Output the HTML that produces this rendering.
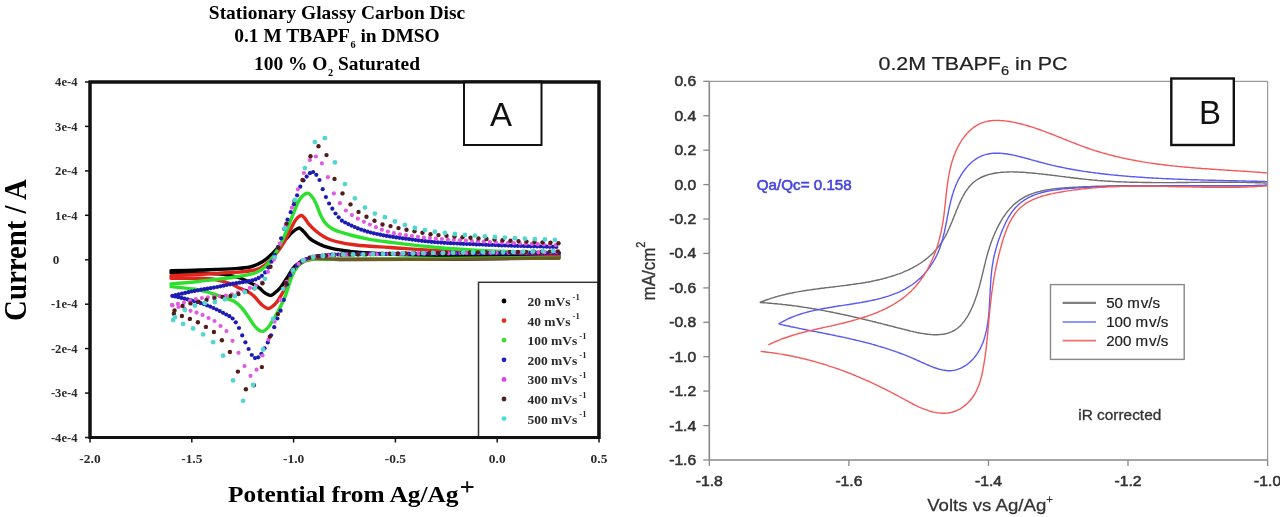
<!DOCTYPE html>
<html><head><meta charset="utf-8"><style>
html,body{margin:0;padding:0;background:#fff;}
body{width:1280px;height:517px;overflow:hidden;}
svg{display:block;filter:blur(0.6px);}
</style></head><body>
<svg width="1280" height="517" viewBox="0 0 1280 517">
<rect width="1280" height="517" fill="#fff"/>
<path d="M171.0,270.8 C175.8,270.7 189.3,270.4 200.0,270.0 C210.7,269.6 226.7,269.1 235.0,268.6 C243.3,268.1 245.5,268.1 250.0,267.0 C254.5,265.9 258.2,264.3 262.0,262.0 C265.8,259.7 269.2,256.7 273.0,253.0 C276.8,249.3 281.8,243.4 285.0,240.0 C288.2,236.6 289.8,234.5 292.0,232.5 C294.2,230.5 296.9,228.6 298.5,228.1 C300.1,227.6 300.5,228.8 301.5,229.5 C302.5,230.2 302.9,230.7 304.3,232.2 C305.7,233.7 307.9,236.8 310.0,238.6 C312.1,240.4 314.3,241.6 317.0,243.0 C319.7,244.4 323.0,245.8 326.0,246.8 C329.0,247.8 330.7,248.4 335.0,249.2 C339.3,250.0 346.2,251.0 352.0,251.6 C357.8,252.2 362.0,252.5 370.0,253.0 C378.0,253.5 386.7,254.1 400.0,254.5 C413.3,254.9 423.5,255.2 450.0,255.5 C476.5,255.8 540.8,255.9 559.0,256.0" fill="none" stroke="#000000" stroke-width="3.4" stroke-linejoin="round" stroke-linecap="round"/>
<path d="M559.0,258.0 C540.8,258.2 486.5,258.9 450.0,259.2 C413.5,259.4 361.7,259.7 340.0,259.5 C318.3,259.3 325.8,258.1 320.0,258.2 C314.2,258.3 309.2,258.7 305.0,260.0 C300.8,261.3 298.0,263.0 295.0,266.0 C292.0,269.0 289.3,274.5 287.0,278.0 C284.7,281.5 282.7,284.8 281.0,287.0 C279.3,289.2 278.6,289.6 277.0,291.0 C275.4,292.4 273.1,295.0 271.2,295.4 C269.3,295.8 267.3,294.5 265.4,293.3 C263.5,292.1 261.3,289.5 259.6,288.2 C257.9,286.9 257.0,286.2 255.3,285.3 C253.6,284.4 252.1,283.7 249.5,282.5 C246.9,281.3 244.1,279.3 240.0,278.0 C235.9,276.7 231.7,275.4 225.0,274.6 C218.3,273.8 209.0,273.4 200.0,273.1 C191.0,272.8 175.8,272.9 171.0,272.8" fill="none" stroke="#000000" stroke-width="3.4" stroke-linejoin="round" stroke-linecap="round"/>
<path d="M171.0,275.8 C175.8,275.6 189.3,274.9 200.0,274.3 C210.7,273.7 225.8,273.0 235.0,272.3 C244.2,271.6 250.0,271.2 255.0,270.0 C260.0,268.8 261.7,267.5 265.0,265.0 C268.3,262.5 272.0,258.5 275.0,255.0 C278.0,251.5 280.2,248.7 283.0,244.0 C285.8,239.3 289.6,231.1 291.8,227.0 C294.0,222.9 294.4,221.4 296.0,219.5 C297.6,217.6 299.8,215.7 301.2,215.4 C302.6,215.2 303.2,216.6 304.5,218.0 C305.8,219.4 307.0,221.9 308.9,224.1 C310.8,226.3 313.4,228.9 315.9,231.0 C318.4,233.1 321.5,235.3 324.0,236.8 C326.5,238.3 328.3,239.1 331.0,240.0 C333.7,240.9 336.5,241.6 340.0,242.3 C343.5,243.1 347.2,243.8 352.2,244.5 C357.2,245.2 363.7,245.8 370.0,246.3 C376.3,246.8 378.3,246.8 390.0,247.5 C401.7,248.2 421.7,249.9 440.0,250.8 C458.3,251.7 480.2,252.4 500.0,253.0 C519.8,253.6 549.2,254.2 559.0,254.5" fill="none" stroke="#e0261c" stroke-width="3.4" stroke-linejoin="round" stroke-linecap="round"/>
<path d="M559.0,257.8 C522.5,258.1 379.8,259.2 340.0,259.3 C300.2,259.4 325.8,258.0 320.0,258.3 C314.2,258.6 309.0,259.4 305.0,261.0 C301.0,262.6 298.7,264.8 296.0,268.0 C293.3,271.2 291.0,276.3 289.0,280.0 C287.0,283.7 285.7,287.0 284.1,290.0 C282.5,293.0 280.9,295.8 279.5,298.0 C278.1,300.2 277.5,301.8 275.6,303.5 C273.7,305.2 270.7,308.4 268.3,308.5 C265.9,308.6 263.5,306.2 261.1,304.1 C258.7,302.0 256.2,298.2 253.8,296.0 C251.4,293.8 249.0,292.4 246.6,291.1 C244.2,289.8 242.1,289.3 239.3,288.0 C236.5,286.7 234.1,284.9 230.0,283.5 C225.9,282.1 220.0,280.4 215.0,279.5 C210.0,278.6 207.3,278.5 200.0,278.3 C192.7,278.1 175.8,278.2 171.0,278.2" fill="none" stroke="#e0261c" stroke-width="3.4" stroke-linejoin="round" stroke-linecap="round"/>
<path d="M171.0,284.0 C175.8,283.5 189.3,282.4 200.0,281.2 C210.7,280.0 225.8,278.4 235.0,277.0 C244.2,275.6 250.0,274.7 255.0,273.0 C260.0,271.3 262.0,269.7 265.0,267.0 C268.0,264.3 270.5,260.7 273.0,257.0 C275.5,253.3 277.7,249.5 280.0,245.0 C282.3,240.5 284.7,235.5 287.0,230.0 C289.3,224.5 291.8,217.2 294.0,212.0 C296.2,206.8 297.8,202.1 300.0,199.0 C302.2,195.9 305.1,193.7 307.0,193.2 C308.9,192.7 310.0,194.3 311.5,196.0 C313.0,197.7 314.4,200.1 315.9,203.2 C317.4,206.3 318.9,211.5 320.5,214.8 C322.1,218.1 323.3,220.6 325.2,222.9 C327.1,225.2 329.4,227.1 332.1,228.7 C334.8,230.3 338.0,231.3 341.4,232.4 C344.8,233.5 347.5,234.3 352.2,235.5 C356.9,236.7 363.4,238.2 369.7,239.3 C376.0,240.4 378.3,240.8 390.0,242.2 C401.7,243.6 425.0,246.4 440.0,247.8 C455.0,249.2 466.7,249.8 480.0,250.5 C493.3,251.2 506.8,251.7 520.0,252.0 C533.2,252.3 552.5,252.4 559.0,252.5" fill="none" stroke="#2ee02e" stroke-width="3.4" stroke-linejoin="round" stroke-linecap="round"/>
<path d="M559.0,257.6 C522.5,257.9 379.8,259.1 340.0,259.2 C300.2,259.3 325.0,258.5 320.0,258.5 C315.0,258.5 312.7,258.6 310.0,259.0 C307.3,259.4 306.0,259.8 304.0,261.0 C302.0,262.2 300.0,263.5 298.0,266.0 C296.0,268.5 294.1,271.0 292.0,276.0 C289.9,281.0 287.6,290.2 285.3,296.0 C283.0,301.8 280.5,306.6 278.3,310.9 C276.1,315.1 273.7,318.7 272.0,321.5 C270.3,324.3 269.4,325.9 268.0,327.5 C266.6,329.1 265.0,330.7 263.5,331.2 C262.0,331.7 260.6,331.3 259.0,330.3 C257.4,329.3 255.7,327.4 254.0,325.3 C252.3,323.2 250.9,320.5 249.0,317.8 C247.1,315.1 245.0,311.6 242.7,309.0 C240.4,306.4 238.5,304.0 235.2,302.0 C231.8,300.0 226.8,298.5 222.6,297.0 C218.4,295.5 214.6,294.1 210.0,292.8 C205.4,291.5 201.5,290.3 195.0,289.3 C188.5,288.3 175.0,287.1 171.0,286.6" fill="none" stroke="#2ee02e" stroke-width="3.4" stroke-linejoin="round" stroke-linecap="round"/>
<path d="M316,258.6 L340,259.4 L440,259.3 L559,257.8" fill="none" stroke="#6e5a24" stroke-width="3" stroke-linecap="round"/>
<g fill="#1c1cb4"><circle cx="559.0" cy="253.0" r="2.1"/><circle cx="555.8" cy="253.0" r="2.1"/><circle cx="552.6" cy="253.0" r="2.1"/><circle cx="549.4" cy="253.0" r="2.1"/><circle cx="546.2" cy="253.0" r="2.1"/><circle cx="543.0" cy="253.1" r="2.1"/><circle cx="539.8" cy="253.1" r="2.1"/><circle cx="536.6" cy="253.1" r="2.1"/><circle cx="533.4" cy="253.1" r="2.1"/><circle cx="530.2" cy="253.1" r="2.1"/><circle cx="527.0" cy="253.1" r="2.1"/><circle cx="523.8" cy="253.1" r="2.1"/><circle cx="520.6" cy="253.1" r="2.1"/><circle cx="517.4" cy="253.1" r="2.1"/><circle cx="514.2" cy="253.1" r="2.1"/><circle cx="511.0" cy="253.2" r="2.1"/><circle cx="507.8" cy="253.2" r="2.1"/><circle cx="504.6" cy="253.2" r="2.1"/><circle cx="501.4" cy="253.2" r="2.1"/><circle cx="498.2" cy="253.2" r="2.1"/><circle cx="495.0" cy="253.2" r="2.1"/><circle cx="491.8" cy="253.2" r="2.1"/><circle cx="488.6" cy="253.2" r="2.1"/><circle cx="485.4" cy="253.2" r="2.1"/><circle cx="482.2" cy="253.3" r="2.1"/><circle cx="479.0" cy="253.3" r="2.1"/><circle cx="475.8" cy="253.3" r="2.1"/><circle cx="472.6" cy="253.3" r="2.1"/><circle cx="469.4" cy="253.3" r="2.1"/><circle cx="466.2" cy="253.3" r="2.1"/><circle cx="463.0" cy="253.3" r="2.1"/><circle cx="459.8" cy="253.3" r="2.1"/><circle cx="456.6" cy="253.4" r="2.1"/><circle cx="453.4" cy="253.4" r="2.1"/><circle cx="450.2" cy="253.4" r="2.1"/><circle cx="447.0" cy="253.4" r="2.1"/><circle cx="443.8" cy="253.4" r="2.1"/><circle cx="440.6" cy="253.4" r="2.1"/><circle cx="437.4" cy="253.5" r="2.1"/><circle cx="434.2" cy="253.5" r="2.1"/><circle cx="431.0" cy="253.5" r="2.1"/><circle cx="427.8" cy="253.5" r="2.1"/><circle cx="424.6" cy="253.5" r="2.1"/><circle cx="421.4" cy="253.6" r="2.1"/><circle cx="418.2" cy="253.6" r="2.1"/><circle cx="415.0" cy="253.6" r="2.1"/><circle cx="411.8" cy="253.6" r="2.1"/><circle cx="408.6" cy="253.7" r="2.1"/><circle cx="405.4" cy="253.7" r="2.1"/><circle cx="402.2" cy="253.7" r="2.1"/><circle cx="399.0" cy="253.8" r="2.1"/><circle cx="395.8" cy="253.8" r="2.1"/><circle cx="392.6" cy="253.8" r="2.1"/><circle cx="389.4" cy="253.8" r="2.1"/><circle cx="386.2" cy="253.9" r="2.1"/><circle cx="383.0" cy="253.9" r="2.1"/><circle cx="379.8" cy="253.9" r="2.1"/><circle cx="376.6" cy="254.0" r="2.1"/><circle cx="373.4" cy="254.0" r="2.1"/><circle cx="370.2" cy="254.1" r="2.1"/><circle cx="367.0" cy="254.1" r="2.1"/><circle cx="363.8" cy="254.1" r="2.1"/><circle cx="360.6" cy="254.2" r="2.1"/><circle cx="357.4" cy="254.2" r="2.1"/><circle cx="354.2" cy="254.3" r="2.1"/><circle cx="351.0" cy="254.3" r="2.1"/><circle cx="347.8" cy="254.4" r="2.1"/><circle cx="344.6" cy="254.4" r="2.1"/><circle cx="341.4" cy="254.5" r="2.1"/><circle cx="338.2" cy="254.5" r="2.1"/><circle cx="335.0" cy="254.6" r="2.1"/><circle cx="331.8" cy="254.7" r="2.1"/><circle cx="328.6" cy="254.8" r="2.1"/><circle cx="325.4" cy="255.3" r="2.1"/><circle cx="322.2" cy="255.7" r="2.1"/><circle cx="319.0" cy="256.0" r="2.1"/><circle cx="315.8" cy="256.4" r="2.1"/><circle cx="312.6" cy="256.9" r="2.1"/><circle cx="309.4" cy="257.8" r="2.1"/><circle cx="306.2" cy="259.0" r="2.1"/><circle cx="303.0" cy="260.6" r="2.1"/><circle cx="299.8" cy="262.7" r="2.1"/><circle cx="296.6" cy="265.7" r="2.1"/><circle cx="293.4" cy="269.6" r="2.1"/><circle cx="290.2" cy="275.2" r="2.1"/><circle cx="287.0" cy="284.4" r="2.1"/><circle cx="283.8" cy="299.9" r="2.1"/><circle cx="280.6" cy="310.7" r="2.1"/><circle cx="277.4" cy="318.5" r="2.1"/><circle cx="274.2" cy="327.2" r="2.1"/><circle cx="271.0" cy="335.3" r="2.1"/><circle cx="267.8" cy="342.4" r="2.1"/><circle cx="264.6" cy="348.3" r="2.1"/><circle cx="261.4" cy="353.8" r="2.1"/><circle cx="258.2" cy="357.3" r="2.1"/><circle cx="255.0" cy="358.1" r="2.1"/><circle cx="251.8" cy="355.0" r="2.1"/><circle cx="248.6" cy="349.0" r="2.1"/><circle cx="245.4" cy="342.3" r="2.1"/><circle cx="242.2" cy="335.4" r="2.1"/><circle cx="239.0" cy="328.0" r="2.1"/><circle cx="235.8" cy="322.3" r="2.1"/><circle cx="232.6" cy="318.5" r="2.1"/><circle cx="229.4" cy="316.2" r="2.1"/><circle cx="226.2" cy="314.5" r="2.1"/><circle cx="223.0" cy="312.8" r="2.1"/><circle cx="219.8" cy="311.1" r="2.1"/><circle cx="216.6" cy="309.5" r="2.1"/><circle cx="213.4" cy="308.0" r="2.1"/><circle cx="210.2" cy="306.6" r="2.1"/><circle cx="207.0" cy="305.3" r="2.1"/><circle cx="203.8" cy="304.1" r="2.1"/><circle cx="200.6" cy="303.1" r="2.1"/><circle cx="197.4" cy="302.1" r="2.1"/><circle cx="194.2" cy="301.1" r="2.1"/><circle cx="191.0" cy="300.3" r="2.1"/><circle cx="187.8" cy="299.4" r="2.1"/><circle cx="184.6" cy="298.7" r="2.1"/><circle cx="181.4" cy="297.9" r="2.1"/><circle cx="178.2" cy="297.2" r="2.1"/><circle cx="175.0" cy="296.5" r="2.1"/><circle cx="172.3" cy="295.9" r="2.1"/><circle cx="175.5" cy="295.2" r="2.1"/><circle cx="178.7" cy="294.4" r="2.1"/><circle cx="181.9" cy="293.7" r="2.1"/><circle cx="185.1" cy="292.9" r="2.1"/><circle cx="188.3" cy="292.2" r="2.1"/><circle cx="191.5" cy="291.5" r="2.1"/><circle cx="194.7" cy="290.9" r="2.1"/><circle cx="197.9" cy="290.3" r="2.1"/><circle cx="201.1" cy="289.7" r="2.1"/><circle cx="204.3" cy="289.2" r="2.1"/><circle cx="207.5" cy="288.7" r="2.1"/><circle cx="210.7" cy="288.2" r="2.1"/><circle cx="213.9" cy="287.6" r="2.1"/><circle cx="217.1" cy="287.0" r="2.1"/><circle cx="220.3" cy="286.3" r="2.1"/><circle cx="223.5" cy="285.7" r="2.1"/><circle cx="226.7" cy="285.0" r="2.1"/><circle cx="229.9" cy="284.3" r="2.1"/><circle cx="233.1" cy="283.7" r="2.1"/><circle cx="236.3" cy="283.2" r="2.1"/><circle cx="239.5" cy="282.7" r="2.1"/><circle cx="242.7" cy="282.2" r="2.1"/><circle cx="245.9" cy="281.7" r="2.1"/><circle cx="249.1" cy="281.2" r="2.1"/><circle cx="252.3" cy="280.4" r="2.1"/><circle cx="255.5" cy="279.4" r="2.1"/><circle cx="258.7" cy="277.9" r="2.1"/><circle cx="261.9" cy="275.8" r="2.1"/><circle cx="265.1" cy="272.4" r="2.1"/><circle cx="268.3" cy="267.6" r="2.1"/><circle cx="271.5" cy="261.7" r="2.1"/><circle cx="274.7" cy="254.9" r="2.1"/><circle cx="277.9" cy="247.0" r="2.1"/><circle cx="281.1" cy="238.3" r="2.1"/><circle cx="284.3" cy="228.9" r="2.1"/><circle cx="287.5" cy="219.7" r="2.1"/><circle cx="290.7" cy="212.2" r="2.1"/><circle cx="293.9" cy="204.3" r="2.1"/><circle cx="297.1" cy="195.3" r="2.1"/><circle cx="300.3" cy="186.7" r="2.1"/><circle cx="303.5" cy="180.4" r="2.1"/><circle cx="306.7" cy="176.6" r="2.1"/><circle cx="309.9" cy="173.2" r="2.1"/><circle cx="313.1" cy="172.0" r="2.1"/><circle cx="316.3" cy="174.8" r="2.1"/><circle cx="319.5" cy="180.0" r="2.1"/><circle cx="322.7" cy="189.2" r="2.1"/><circle cx="325.9" cy="197.1" r="2.1"/><circle cx="329.1" cy="203.5" r="2.1"/><circle cx="332.3" cy="208.7" r="2.1"/><circle cx="335.5" cy="213.5" r="2.1"/><circle cx="338.7" cy="217.3" r="2.1"/><circle cx="341.9" cy="220.7" r="2.1"/><circle cx="345.1" cy="222.5" r="2.1"/><circle cx="348.3" cy="224.1" r="2.1"/><circle cx="351.5" cy="225.6" r="2.1"/><circle cx="354.7" cy="227.0" r="2.1"/><circle cx="357.9" cy="228.4" r="2.1"/><circle cx="361.1" cy="229.6" r="2.1"/><circle cx="364.3" cy="230.7" r="2.1"/><circle cx="367.5" cy="231.7" r="2.1"/><circle cx="370.7" cy="232.5" r="2.1"/><circle cx="373.9" cy="233.3" r="2.1"/><circle cx="377.1" cy="234.0" r="2.1"/><circle cx="380.3" cy="234.7" r="2.1"/><circle cx="383.5" cy="235.3" r="2.1"/><circle cx="386.7" cy="235.9" r="2.1"/><circle cx="389.9" cy="236.4" r="2.1"/><circle cx="393.1" cy="236.9" r="2.1"/><circle cx="396.3" cy="237.4" r="2.1"/><circle cx="399.5" cy="237.8" r="2.1"/><circle cx="402.7" cy="238.3" r="2.1"/><circle cx="405.9" cy="238.7" r="2.1"/><circle cx="409.1" cy="239.1" r="2.1"/><circle cx="412.3" cy="239.6" r="2.1"/><circle cx="415.5" cy="240.0" r="2.1"/><circle cx="418.7" cy="240.4" r="2.1"/><circle cx="421.9" cy="240.8" r="2.1"/><circle cx="425.1" cy="241.2" r="2.1"/><circle cx="428.3" cy="241.5" r="2.1"/><circle cx="431.5" cy="241.8" r="2.1"/><circle cx="434.7" cy="242.1" r="2.1"/><circle cx="437.9" cy="242.3" r="2.1"/><circle cx="441.1" cy="242.6" r="2.1"/><circle cx="444.3" cy="242.8" r="2.1"/><circle cx="447.5" cy="243.0" r="2.1"/><circle cx="450.7" cy="243.2" r="2.1"/><circle cx="453.9" cy="243.3" r="2.1"/><circle cx="457.1" cy="243.5" r="2.1"/><circle cx="460.3" cy="243.7" r="2.1"/><circle cx="463.5" cy="243.8" r="2.1"/><circle cx="466.7" cy="244.0" r="2.1"/><circle cx="469.9" cy="244.1" r="2.1"/><circle cx="473.1" cy="244.2" r="2.1"/><circle cx="476.3" cy="244.4" r="2.1"/><circle cx="479.5" cy="244.5" r="2.1"/><circle cx="482.7" cy="244.6" r="2.1"/><circle cx="485.9" cy="244.8" r="2.1"/><circle cx="489.1" cy="244.9" r="2.1"/><circle cx="492.3" cy="245.0" r="2.1"/><circle cx="495.5" cy="245.1" r="2.1"/><circle cx="498.7" cy="245.3" r="2.1"/><circle cx="501.9" cy="245.4" r="2.1"/><circle cx="505.1" cy="245.5" r="2.1"/><circle cx="508.3" cy="245.6" r="2.1"/><circle cx="511.5" cy="245.7" r="2.1"/><circle cx="514.7" cy="245.8" r="2.1"/><circle cx="517.9" cy="245.9" r="2.1"/><circle cx="521.1" cy="246.0" r="2.1"/><circle cx="524.3" cy="246.1" r="2.1"/><circle cx="527.5" cy="246.2" r="2.1"/><circle cx="530.7" cy="246.3" r="2.1"/><circle cx="533.9" cy="246.3" r="2.1"/><circle cx="537.1" cy="246.4" r="2.1"/><circle cx="540.3" cy="246.5" r="2.1"/><circle cx="543.5" cy="246.6" r="2.1"/><circle cx="546.7" cy="246.7" r="2.1"/><circle cx="549.9" cy="246.8" r="2.1"/><circle cx="553.1" cy="246.8" r="2.1"/><circle cx="556.3" cy="246.9" r="2.1"/></g>
<g fill="#e25ae2"><circle cx="556.5" cy="252.0" r="2.1"/><circle cx="550.5" cy="252.1" r="2.1"/><circle cx="544.5" cy="252.2" r="2.1"/><circle cx="538.5" cy="252.2" r="2.1"/><circle cx="532.5" cy="252.3" r="2.1"/><circle cx="526.5" cy="252.4" r="2.1"/><circle cx="520.5" cy="252.4" r="2.1"/><circle cx="514.5" cy="252.5" r="2.1"/><circle cx="508.5" cy="252.6" r="2.1"/><circle cx="502.5" cy="252.6" r="2.1"/><circle cx="496.5" cy="252.7" r="2.1"/><circle cx="490.5" cy="252.8" r="2.1"/><circle cx="484.5" cy="252.8" r="2.1"/><circle cx="478.5" cy="252.9" r="2.1"/><circle cx="472.5" cy="253.0" r="2.1"/><circle cx="466.5" cy="253.0" r="2.1"/><circle cx="460.5" cy="253.1" r="2.1"/><circle cx="454.5" cy="253.2" r="2.1"/><circle cx="448.5" cy="253.3" r="2.1"/><circle cx="442.5" cy="253.3" r="2.1"/><circle cx="436.5" cy="253.4" r="2.1"/><circle cx="430.5" cy="253.5" r="2.1"/><circle cx="424.5" cy="253.6" r="2.1"/><circle cx="418.5" cy="253.7" r="2.1"/><circle cx="412.5" cy="253.7" r="2.1"/><circle cx="406.5" cy="253.8" r="2.1"/><circle cx="400.5" cy="253.9" r="2.1"/><circle cx="394.5" cy="254.0" r="2.1"/><circle cx="388.5" cy="254.1" r="2.1"/><circle cx="382.5" cy="254.2" r="2.1"/><circle cx="376.5" cy="254.3" r="2.1"/><circle cx="370.5" cy="254.4" r="2.1"/><circle cx="364.5" cy="254.5" r="2.1"/><circle cx="358.5" cy="254.6" r="2.1"/><circle cx="352.5" cy="254.7" r="2.1"/><circle cx="346.5" cy="254.9" r="2.1"/><circle cx="340.5" cy="255.0" r="2.1"/><circle cx="334.5" cy="255.1" r="2.1"/><circle cx="328.5" cy="255.4" r="2.1"/><circle cx="322.5" cy="256.1" r="2.1"/><circle cx="316.5" cy="256.6" r="2.1"/><circle cx="310.5" cy="257.6" r="2.1"/><circle cx="304.5" cy="259.8" r="2.1"/><circle cx="298.5" cy="263.8" r="2.1"/><circle cx="292.5" cy="271.0" r="2.1"/><circle cx="286.5" cy="281.9" r="2.1"/><circle cx="280.5" cy="300.1" r="2.1"/><circle cx="274.5" cy="321.7" r="2.1"/><circle cx="268.5" cy="339.7" r="2.1"/><circle cx="262.5" cy="355.5" r="2.1"/><circle cx="256.5" cy="369.7" r="2.1"/><circle cx="250.5" cy="375.8" r="2.1"/><circle cx="244.5" cy="366.1" r="2.1"/><circle cx="238.5" cy="352.8" r="2.1"/><circle cx="232.5" cy="340.8" r="2.1"/><circle cx="226.5" cy="331.1" r="2.1"/><circle cx="220.5" cy="326.0" r="2.1"/><circle cx="214.5" cy="321.0" r="2.1"/><circle cx="208.5" cy="318.0" r="2.1"/><circle cx="202.5" cy="314.9" r="2.1"/><circle cx="196.5" cy="312.6" r="2.1"/><circle cx="190.5" cy="310.8" r="2.1"/><circle cx="184.5" cy="308.9" r="2.1"/><circle cx="178.5" cy="307.0" r="2.1"/><circle cx="172.5" cy="305.4" r="2.1"/><circle cx="171.9" cy="304.9" r="2.1"/><circle cx="177.9" cy="303.9" r="2.1"/><circle cx="183.9" cy="302.8" r="2.1"/><circle cx="189.9" cy="300.9" r="2.1"/><circle cx="195.9" cy="299.0" r="2.1"/><circle cx="201.9" cy="298.0" r="2.1"/><circle cx="207.9" cy="297.3" r="2.1"/><circle cx="213.9" cy="296.7" r="2.1"/><circle cx="219.9" cy="296.3" r="2.1"/><circle cx="225.9" cy="295.7" r="2.1"/><circle cx="231.9" cy="294.4" r="2.1"/><circle cx="237.9" cy="292.7" r="2.1"/><circle cx="243.9" cy="290.5" r="2.1"/><circle cx="249.9" cy="287.9" r="2.1"/><circle cx="255.9" cy="285.7" r="2.1"/><circle cx="261.9" cy="282.7" r="2.1"/><circle cx="267.9" cy="271.8" r="2.1"/><circle cx="273.9" cy="259.7" r="2.1"/><circle cx="279.9" cy="243.7" r="2.1"/><circle cx="285.9" cy="225.5" r="2.1"/><circle cx="291.9" cy="207.7" r="2.1"/><circle cx="297.9" cy="189.3" r="2.1"/><circle cx="303.9" cy="173.0" r="2.1"/><circle cx="309.9" cy="160.1" r="2.1"/><circle cx="315.9" cy="156.5" r="2.1"/><circle cx="321.9" cy="163.4" r="2.1"/><circle cx="327.9" cy="177.2" r="2.1"/><circle cx="333.9" cy="193.4" r="2.1"/><circle cx="339.9" cy="203.2" r="2.1"/><circle cx="345.9" cy="210.5" r="2.1"/><circle cx="351.9" cy="215.1" r="2.1"/><circle cx="357.9" cy="218.7" r="2.1"/><circle cx="363.9" cy="221.8" r="2.1"/><circle cx="369.9" cy="224.6" r="2.1"/><circle cx="375.9" cy="227.2" r="2.1"/><circle cx="381.9" cy="229.7" r="2.1"/><circle cx="387.9" cy="231.6" r="2.1"/><circle cx="393.9" cy="233.2" r="2.1"/><circle cx="399.9" cy="234.3" r="2.1"/><circle cx="405.9" cy="235.2" r="2.1"/><circle cx="411.9" cy="236.0" r="2.1"/><circle cx="417.9" cy="236.8" r="2.1"/><circle cx="423.9" cy="237.5" r="2.1"/><circle cx="429.9" cy="238.1" r="2.1"/><circle cx="435.9" cy="238.7" r="2.1"/><circle cx="441.9" cy="239.1" r="2.1"/><circle cx="447.9" cy="239.6" r="2.1"/><circle cx="453.9" cy="240.0" r="2.1"/><circle cx="459.9" cy="240.3" r="2.1"/><circle cx="465.9" cy="240.7" r="2.1"/><circle cx="471.9" cy="241.0" r="2.1"/><circle cx="477.9" cy="241.4" r="2.1"/><circle cx="483.9" cy="241.7" r="2.1"/><circle cx="489.9" cy="242.0" r="2.1"/><circle cx="495.9" cy="242.3" r="2.1"/><circle cx="501.9" cy="242.6" r="2.1"/><circle cx="507.9" cy="242.9" r="2.1"/><circle cx="513.9" cy="243.2" r="2.1"/><circle cx="519.9" cy="243.4" r="2.1"/><circle cx="525.9" cy="243.7" r="2.1"/><circle cx="531.9" cy="243.9" r="2.1"/><circle cx="537.9" cy="244.2" r="2.1"/><circle cx="543.9" cy="244.4" r="2.1"/><circle cx="549.9" cy="244.6" r="2.1"/><circle cx="555.9" cy="244.9" r="2.1"/></g>
<g fill="#521c1c"><circle cx="557.9" cy="251.5" r="2.2"/><circle cx="549.9" cy="251.6" r="2.2"/><circle cx="541.9" cy="251.7" r="2.2"/><circle cx="533.9" cy="251.8" r="2.2"/><circle cx="525.9" cy="251.9" r="2.2"/><circle cx="517.9" cy="251.9" r="2.2"/><circle cx="509.9" cy="252.0" r="2.2"/><circle cx="501.9" cy="252.1" r="2.2"/><circle cx="493.9" cy="252.2" r="2.2"/><circle cx="485.9" cy="252.3" r="2.2"/><circle cx="477.9" cy="252.4" r="2.2"/><circle cx="469.9" cy="252.5" r="2.2"/><circle cx="461.9" cy="252.6" r="2.2"/><circle cx="453.9" cy="252.7" r="2.2"/><circle cx="445.9" cy="252.8" r="2.2"/><circle cx="437.9" cy="252.9" r="2.2"/><circle cx="429.9" cy="253.0" r="2.2"/><circle cx="421.9" cy="253.1" r="2.2"/><circle cx="413.9" cy="253.3" r="2.2"/><circle cx="405.9" cy="253.4" r="2.2"/><circle cx="397.9" cy="253.5" r="2.2"/><circle cx="389.9" cy="253.7" r="2.2"/><circle cx="381.9" cy="253.8" r="2.2"/><circle cx="373.9" cy="254.0" r="2.2"/><circle cx="365.9" cy="254.2" r="2.2"/><circle cx="357.9" cy="254.4" r="2.2"/><circle cx="349.9" cy="254.5" r="2.2"/><circle cx="341.9" cy="254.7" r="2.2"/><circle cx="333.9" cy="255.0" r="2.2"/><circle cx="325.9" cy="255.6" r="2.2"/><circle cx="317.9" cy="256.3" r="2.2"/><circle cx="309.9" cy="257.6" r="2.2"/><circle cx="301.9" cy="261.2" r="2.2"/><circle cx="293.9" cy="269.1" r="2.2"/><circle cx="285.9" cy="282.9" r="2.2"/><circle cx="277.9" cy="314.1" r="2.2"/><circle cx="269.9" cy="336.6" r="2.2"/><circle cx="261.9" cy="367.1" r="2.2"/><circle cx="253.9" cy="385.2" r="2.2"/><circle cx="245.9" cy="389.2" r="2.2"/><circle cx="237.9" cy="371.6" r="2.2"/><circle cx="229.9" cy="352.0" r="2.2"/><circle cx="221.9" cy="340.3" r="2.2"/><circle cx="213.9" cy="332.0" r="2.2"/><circle cx="205.9" cy="326.9" r="2.2"/><circle cx="197.9" cy="322.3" r="2.2"/><circle cx="189.9" cy="318.9" r="2.2"/><circle cx="181.9" cy="316.0" r="2.2"/><circle cx="173.9" cy="313.7" r="2.2"/><circle cx="174.5" cy="310.5" r="2.2"/><circle cx="182.5" cy="305.9" r="2.2"/><circle cx="190.5" cy="303.4" r="2.2"/><circle cx="198.5" cy="301.7" r="2.2"/><circle cx="206.5" cy="300.0" r="2.2"/><circle cx="214.5" cy="298.1" r="2.2"/><circle cx="222.5" cy="296.9" r="2.2"/><circle cx="230.5" cy="295.9" r="2.2"/><circle cx="238.5" cy="294.0" r="2.2"/><circle cx="246.5" cy="291.3" r="2.2"/><circle cx="254.5" cy="288.3" r="2.2"/><circle cx="262.5" cy="283.3" r="2.2"/><circle cx="270.5" cy="266.7" r="2.2"/><circle cx="278.5" cy="247.7" r="2.2"/><circle cx="286.5" cy="223.6" r="2.2"/><circle cx="294.5" cy="201.0" r="2.2"/><circle cx="302.5" cy="180.0" r="2.2"/><circle cx="310.5" cy="156.3" r="2.2"/><circle cx="318.5" cy="146.2" r="2.2"/><circle cx="326.5" cy="155.1" r="2.2"/><circle cx="334.5" cy="178.9" r="2.2"/><circle cx="342.5" cy="193.4" r="2.2"/><circle cx="350.5" cy="204.4" r="2.2"/><circle cx="358.5" cy="211.9" r="2.2"/><circle cx="366.5" cy="216.8" r="2.2"/><circle cx="374.5" cy="220.7" r="2.2"/><circle cx="382.5" cy="224.5" r="2.2"/><circle cx="390.5" cy="226.1" r="2.2"/><circle cx="398.5" cy="228.1" r="2.2"/><circle cx="406.5" cy="229.7" r="2.2"/><circle cx="414.5" cy="231.3" r="2.2"/><circle cx="422.5" cy="232.8" r="2.2"/><circle cx="430.5" cy="234.3" r="2.2"/><circle cx="438.5" cy="235.1" r="2.2"/><circle cx="446.5" cy="235.8" r="2.2"/><circle cx="454.5" cy="236.5" r="2.2"/><circle cx="462.5" cy="237.2" r="2.2"/><circle cx="470.5" cy="237.8" r="2.2"/><circle cx="478.5" cy="238.4" r="2.2"/><circle cx="486.5" cy="239.0" r="2.2"/><circle cx="494.5" cy="239.6" r="2.2"/><circle cx="502.5" cy="240.2" r="2.2"/><circle cx="510.5" cy="240.7" r="2.2"/><circle cx="518.5" cy="241.1" r="2.2"/><circle cx="526.5" cy="241.6" r="2.2"/><circle cx="534.5" cy="242.0" r="2.2"/><circle cx="542.5" cy="242.4" r="2.2"/><circle cx="550.5" cy="242.8" r="2.2"/><circle cx="558.5" cy="243.3" r="2.2"/></g>
<g fill="#52d6d2"><circle cx="553.1" cy="251.1" r="2.4"/><circle cx="543.1" cy="251.3" r="2.4"/><circle cx="533.1" cy="251.5" r="2.4"/><circle cx="523.1" cy="251.6" r="2.4"/><circle cx="513.1" cy="251.8" r="2.4"/><circle cx="503.1" cy="252.0" r="2.4"/><circle cx="493.1" cy="252.1" r="2.4"/><circle cx="483.1" cy="252.2" r="2.4"/><circle cx="473.1" cy="252.4" r="2.4"/><circle cx="463.1" cy="252.5" r="2.4"/><circle cx="453.1" cy="252.7" r="2.4"/><circle cx="443.1" cy="252.8" r="2.4"/><circle cx="433.1" cy="252.9" r="2.4"/><circle cx="423.1" cy="253.1" r="2.4"/><circle cx="413.1" cy="253.3" r="2.4"/><circle cx="403.1" cy="253.5" r="2.4"/><circle cx="393.1" cy="253.7" r="2.4"/><circle cx="383.1" cy="253.9" r="2.4"/><circle cx="373.1" cy="254.1" r="2.4"/><circle cx="363.1" cy="254.3" r="2.4"/><circle cx="353.1" cy="254.5" r="2.4"/><circle cx="343.1" cy="254.7" r="2.4"/><circle cx="333.1" cy="255.1" r="2.4"/><circle cx="323.1" cy="256.0" r="2.4"/><circle cx="313.1" cy="256.9" r="2.4"/><circle cx="303.1" cy="260.5" r="2.4"/><circle cx="293.1" cy="270.2" r="2.4"/><circle cx="283.1" cy="288.8" r="2.4"/><circle cx="273.1" cy="319.0" r="2.4"/><circle cx="263.1" cy="349.5" r="2.4"/><circle cx="253.1" cy="385.0" r="2.4"/><circle cx="243.1" cy="400.8" r="2.4"/><circle cx="233.1" cy="380.4" r="2.4"/><circle cx="223.1" cy="355.7" r="2.4"/><circle cx="213.1" cy="342.2" r="2.4"/><circle cx="203.1" cy="334.4" r="2.4"/><circle cx="193.1" cy="328.5" r="2.4"/><circle cx="183.1" cy="323.9" r="2.4"/><circle cx="173.1" cy="320.1" r="2.4"/><circle cx="174.9" cy="317.2" r="2.4"/><circle cx="184.9" cy="310.1" r="2.4"/><circle cx="194.9" cy="305.6" r="2.4"/><circle cx="204.9" cy="303.2" r="2.4"/><circle cx="214.9" cy="302.0" r="2.4"/><circle cx="224.9" cy="299.3" r="2.4"/><circle cx="234.9" cy="296.0" r="2.4"/><circle cx="244.9" cy="292.2" r="2.4"/><circle cx="254.9" cy="288.1" r="2.4"/><circle cx="264.9" cy="278.8" r="2.4"/><circle cx="274.9" cy="257.3" r="2.4"/><circle cx="284.9" cy="228.5" r="2.4"/><circle cx="294.9" cy="200.0" r="2.4"/><circle cx="304.9" cy="168.1" r="2.4"/><circle cx="314.9" cy="141.9" r="2.4"/><circle cx="324.9" cy="138.2" r="2.4"/><circle cx="334.9" cy="162.4" r="2.4"/><circle cx="344.9" cy="184.1" r="2.4"/><circle cx="354.9" cy="198.3" r="2.4"/><circle cx="364.9" cy="207.6" r="2.4"/><circle cx="374.9" cy="213.6" r="2.4"/><circle cx="384.9" cy="217.2" r="2.4"/><circle cx="394.9" cy="221.5" r="2.4"/><circle cx="404.9" cy="224.9" r="2.4"/><circle cx="414.9" cy="228.0" r="2.4"/><circle cx="424.9" cy="230.1" r="2.4"/><circle cx="434.9" cy="231.7" r="2.4"/><circle cx="444.9" cy="232.9" r="2.4"/><circle cx="454.9" cy="234.0" r="2.4"/><circle cx="464.9" cy="234.9" r="2.4"/><circle cx="474.9" cy="235.6" r="2.4"/><circle cx="484.9" cy="236.3" r="2.4"/><circle cx="494.9" cy="237.0" r="2.4"/><circle cx="504.9" cy="237.6" r="2.4"/><circle cx="514.9" cy="238.2" r="2.4"/><circle cx="524.9" cy="238.7" r="2.4"/><circle cx="534.9" cy="239.1" r="2.4"/><circle cx="544.9" cy="239.5" r="2.4"/><circle cx="554.9" cy="239.9" r="2.4"/></g>
<path d="M1267.0,185.3 L1265.5,185.3 L1264.0,185.4 L1262.4,185.4 L1260.9,185.4 L1259.4,185.5 L1257.9,185.5 L1256.3,185.5 L1254.8,185.5 L1253.3,185.6 L1251.8,185.6 L1250.3,185.6 L1248.8,185.6 L1247.3,185.6 L1245.7,185.7 L1244.2,185.7 L1242.7,185.7 L1241.2,185.7 L1239.7,185.7 L1238.2,185.7 L1236.7,185.7 L1235.2,185.8 L1233.7,185.8 L1232.2,185.8 L1230.7,185.8 L1229.2,185.8 L1227.7,185.8 L1226.2,185.8 L1224.7,185.8 L1223.2,185.8 L1221.7,185.8 L1220.2,185.8 L1218.7,185.8 L1217.2,185.8 L1215.7,185.8 L1214.2,185.8 L1212.7,185.8 L1211.2,185.8 L1209.7,185.8 L1208.2,185.8 L1206.7,185.8 L1205.2,185.8 L1203.8,185.8 L1202.3,185.8 L1200.8,185.8 L1199.3,185.7 L1197.8,185.7 L1196.3,185.7 L1194.8,185.7 L1193.3,185.7 L1191.8,185.7 L1190.3,185.7 L1188.9,185.7 L1187.4,185.7 L1185.9,185.7 L1184.4,185.7 L1182.9,185.7 L1181.4,185.7 L1179.9,185.6 L1178.4,185.6 L1177.0,185.6 L1175.5,185.6 L1174.0,185.6 L1172.5,185.6 L1171.0,185.6 L1169.5,185.6 L1168.0,185.6 L1166.5,185.6 L1165.1,185.6 L1163.6,185.6 L1162.1,185.6 L1160.6,185.6 L1159.1,185.6 L1157.6,185.6 L1156.1,185.6 L1154.6,185.6 L1153.1,185.6 L1151.7,185.6 L1150.2,185.6 L1148.7,185.6 L1147.2,185.6 L1145.7,185.6 L1144.2,185.6 L1142.7,185.6 L1141.2,185.6 L1139.7,185.6 L1138.2,185.6 L1136.7,185.6 L1135.2,185.6 L1133.7,185.6 L1132.2,185.6 L1130.7,185.6 L1129.2,185.7 L1127.7,185.7 L1126.2,185.7 L1124.7,185.7 L1123.2,185.7 L1121.7,185.8 L1120.2,185.8 L1118.7,185.8 L1117.2,185.8 L1115.7,185.9 L1114.2,185.9 L1112.7,185.9 L1111.2,185.9 L1109.7,186.0 L1108.2,186.0 L1106.7,186.0 L1105.1,186.1 L1103.6,186.1 L1102.1,186.2 L1100.6,186.2 L1099.1,186.3 L1097.6,186.3 L1096.0,186.3 L1094.5,186.4 L1093.0,186.5 L1091.5,186.5 L1089.9,186.6 L1088.4,186.6 L1086.9,186.7 L1085.4,186.7 L1083.8,186.8 L1082.3,186.9 L1080.8,186.9 L1079.2,187.0 L1077.7,187.1 L1076.1,187.2 L1074.6,187.2 L1073.1,187.3 L1071.5,187.4 L1070.0,187.5 L1068.4,187.6 L1066.9,187.7 L1065.4,187.8 L1063.8,187.9 L1062.3,188.0 L1060.7,188.1 L1059.2,188.3 L1057.7,188.4 L1056.2,188.6 L1054.7,188.8 L1053.1,188.9 L1051.6,189.1 L1050.1,189.4 L1048.7,189.6 L1047.2,189.8 L1045.7,190.1 L1044.2,190.4 L1042.8,190.7 L1041.4,191.0 L1039.9,191.4 L1038.5,191.7 L1037.1,192.1 L1035.7,192.5 L1034.3,192.9 L1033.0,193.4 L1031.6,193.9 L1030.3,194.4 L1029.0,194.9 L1027.7,195.5 L1026.4,196.1 L1025.1,196.7 L1023.9,197.4 L1022.7,198.1 L1021.5,198.8 L1020.3,199.6 L1019.1,200.4 L1018.0,201.2 L1016.9,202.1 L1015.8,203.0 L1014.7,203.9 L1013.6,204.8 L1012.6,205.8 L1011.6,206.9 L1010.6,207.9 L1009.6,209.0 L1008.7,210.1 L1007.7,211.2 L1006.8,212.4 L1005.9,213.6 L1005.0,214.8 L1004.2,216.0 L1003.3,217.2 L1002.5,218.5 L1001.7,219.8 L1000.9,221.1 L1000.2,222.4 L999.4,223.8 L998.7,225.1 L998.0,226.5 L997.3,227.9 L996.6,229.3 L996.0,230.7 L995.3,232.1 L994.7,233.5 L994.1,235.0 L993.5,236.4 L992.9,237.9 L992.3,239.3 L991.8,240.8 L991.2,242.3 L990.7,243.8 L990.2,245.2 L989.7,246.7 L989.3,248.2 L988.8,249.7 L988.3,251.1 L987.9,252.6 L987.5,254.1 L987.1,255.6 L986.7,257.0 L986.3,258.5 L985.9,259.9 L985.5,261.4 L985.2,262.9 L984.8,264.3 L984.5,265.8 L984.1,267.2 L983.8,268.7 L983.4,270.1 L983.1,271.6 L982.7,273.0 L982.4,274.5 L982.0,275.9 L981.7,277.4 L981.3,278.8 L981.0,280.3 L980.6,281.7 L980.2,283.2 L979.9,284.6 L979.5,286.1 L979.1,287.5 L978.7,288.9 L978.2,290.4 L977.8,291.8 L977.4,293.3 L976.9,294.7 L976.4,296.2 L975.9,297.6 L975.4,299.1 L974.9,300.6 L974.3,302.0 L973.8,303.5 L973.2,304.9 L972.6,306.4 L971.9,307.8 L971.3,309.2 L970.6,310.6 L969.9,312.0 L969.2,313.4 L968.4,314.8 L967.7,316.1 L966.9,317.4 L966.0,318.7 L965.2,319.9 L964.3,321.1 L963.4,322.2 L962.5,323.4 L961.6,324.4 L960.6,325.4 L959.6,326.4 L958.6,327.3 L957.6,328.2 L956.5,329.0 L955.4,329.7 L954.3,330.4 L953.1,331.0 L951.9,331.6 L950.7,332.1 L949.5,332.6 L948.3,333.0 L947.0,333.4 L945.7,333.7 L944.4,334.0 L943.1,334.2 L941.8,334.4 L940.4,334.5 L939.0,334.6 L937.6,334.7 L936.2,334.7 L934.8,334.7 L933.4,334.7 L931.9,334.6 L930.4,334.5 L929.0,334.4 L927.5,334.2 L926.0,334.0 L924.5,333.8 L923.0,333.6 L921.5,333.3 L919.9,333.1 L918.4,332.8 L916.9,332.5 L915.3,332.1 L913.8,331.8 L912.3,331.4 L910.7,331.1 L909.2,330.7 L907.6,330.3 L906.1,329.9 L904.5,329.5 L903.0,329.1 L901.4,328.7 L899.9,328.3 L898.4,328.0 L896.8,327.6 L895.3,327.2 L893.8,326.8 L892.3,326.4 L890.8,326.0 L889.2,325.6 L887.7,325.2 L886.2,324.8 L884.7,324.5 L883.2,324.1 L881.8,323.7 L880.3,323.3 L878.8,323.0 L877.3,322.6 L875.8,322.2 L874.3,321.8 L872.9,321.5 L871.4,321.1 L869.9,320.8 L868.5,320.4 L867.0,320.0 L865.6,319.7 L864.1,319.3 L862.6,319.0 L861.2,318.6 L859.7,318.3 L858.3,318.0 L856.8,317.6 L855.4,317.3 L853.9,317.0 L852.5,316.6 L851.1,316.3 L849.6,316.0 L848.2,315.6 L846.7,315.3 L845.3,315.0 L843.9,314.7 L842.4,314.4 L841.0,314.1 L839.6,313.8 L838.1,313.5 L836.7,313.2 L835.2,312.9 L833.8,312.6 L832.4,312.3 L830.9,312.0 L829.5,311.7 L828.1,311.4 L826.6,311.2 L825.2,310.9 L823.8,310.6 L822.3,310.3 L820.9,310.1 L819.4,309.8 L818.0,309.6 L816.5,309.3 L815.1,309.0 L813.7,308.8 L812.2,308.6 L810.8,308.3 L809.3,308.1 L807.9,307.8 L806.4,307.6 L804.9,307.4 L803.5,307.2 L802.0,306.9 L800.6,306.7 L799.1,306.5 L797.6,306.3 L796.2,306.1 L794.7,305.9 L793.2,305.7 L791.7,305.5 L790.2,305.3 L788.8,305.2 L787.3,305.0 L785.8,304.8 L784.3,304.6 L782.8,304.5 L781.3,304.3 L779.8,304.1 L778.3,304.0 L776.7,303.8 L775.2,303.7 L773.7,303.6 L772.2,303.4 L770.6,303.3 L769.1,303.2 L767.6,303.0 L766.0,302.9 L764.5,302.8 L762.9,302.7 L761.3,302.6 L759.8,302.5" fill="none" stroke="#6e6e6e" stroke-width="1.4" stroke-linejoin="round"/>
<path d="M759.8,302.5 L761.1,302.0 L762.4,301.5 L763.7,301.0 L765.0,300.5 L766.3,300.0 L767.6,299.5 L768.9,299.1 L770.2,298.6 L771.6,298.2 L772.9,297.8 L774.2,297.4 L775.6,297.0 L776.9,296.6 L778.2,296.2 L779.6,295.8 L780.9,295.5 L782.3,295.1 L783.7,294.8 L785.0,294.5 L786.4,294.1 L787.8,293.8 L789.1,293.5 L790.5,293.2 L791.9,293.0 L793.3,292.7 L794.7,292.4 L796.1,292.1 L797.5,291.9 L798.8,291.6 L800.2,291.4 L801.6,291.2 L803.0,290.9 L804.4,290.7 L805.9,290.5 L807.3,290.3 L808.7,290.1 L810.1,289.9 L811.5,289.7 L812.9,289.5 L814.3,289.3 L815.7,289.1 L817.2,288.9 L818.6,288.7 L820.0,288.5 L821.4,288.3 L822.8,288.2 L824.3,288.0 L825.7,287.8 L827.1,287.6 L828.5,287.5 L829.9,287.3 L831.4,287.1 L832.8,287.0 L834.2,286.8 L835.6,286.6 L837.1,286.4 L838.5,286.3 L839.9,286.1 L841.3,285.9 L842.8,285.7 L844.2,285.6 L845.6,285.4 L847.0,285.2 L848.4,285.0 L849.8,284.8 L851.3,284.6 L852.7,284.4 L854.1,284.2 L855.5,284.0 L856.9,283.8 L858.3,283.6 L859.7,283.4 L861.1,283.2 L862.5,283.0 L863.9,282.7 L865.3,282.5 L866.7,282.2 L868.1,282.0 L869.5,281.7 L870.9,281.5 L872.2,281.2 L873.6,280.9 L875.0,280.6 L876.4,280.3 L877.7,280.0 L879.1,279.7 L880.5,279.4 L881.8,279.0 L883.2,278.7 L884.5,278.3 L885.9,278.0 L887.2,277.6 L888.6,277.2 L889.9,276.8 L891.2,276.4 L892.5,276.0 L893.9,275.6 L895.2,275.2 L896.5,274.7 L897.8,274.2 L899.1,273.8 L900.4,273.3 L901.7,272.8 L902.9,272.3 L904.2,271.7 L905.5,271.2 L906.7,270.6 L908.0,270.1 L909.2,269.5 L910.4,268.9 L911.6,268.3 L912.8,267.6 L914.0,267.0 L915.2,266.3 L916.4,265.7 L917.5,265.0 L918.7,264.3 L919.8,263.5 L921.0,262.8 L922.1,262.0 L923.2,261.2 L924.3,260.5 L925.4,259.6 L926.4,258.8 L927.5,258.0 L928.5,257.1 L929.5,256.2 L930.5,255.3 L931.5,254.4 L932.5,253.4 L933.5,252.4 L934.4,251.5 L935.3,250.4 L936.2,249.4 L937.1,248.4 L938.0,247.3 L938.9,246.2 L939.7,245.1 L940.5,244.0 L941.3,242.8 L942.1,241.6 L942.9,240.4 L943.6,239.2 L944.4,237.9 L945.1,236.7 L945.8,235.4 L946.4,234.1 L947.1,232.7 L947.7,231.4 L948.4,230.0 L949.0,228.7 L949.6,227.3 L950.2,225.9 L950.8,224.5 L951.4,223.1 L952.0,221.7 L952.5,220.3 L953.1,218.9 L953.7,217.4 L954.2,216.0 L954.8,214.6 L955.4,213.2 L955.9,211.8 L956.5,210.4 L957.1,209.0 L957.7,207.6 L958.2,206.2 L958.8,204.9 L959.4,203.5 L960.0,202.2 L960.6,200.9 L961.3,199.6 L961.9,198.3 L962.6,197.0 L963.2,195.8 L963.9,194.6 L964.6,193.4 L965.3,192.2 L966.0,191.1 L966.8,190.0 L967.6,188.9 L968.4,187.8 L969.2,186.8 L970.0,185.8 L970.9,184.9 L971.8,184.0 L972.7,183.1 L973.6,182.3 L974.6,181.5 L975.6,180.7 L976.6,180.0 L977.7,179.3 L978.8,178.7 L979.8,178.1 L981.0,177.5 L982.1,177.0 L983.3,176.5 L984.5,176.0 L985.7,175.5 L986.9,175.1 L988.1,174.7 L989.4,174.4 L990.7,174.1 L992.0,173.8 L993.3,173.5 L994.6,173.2 L995.9,173.0 L997.3,172.8 L998.6,172.6 L1000.0,172.5 L1001.4,172.3 L1002.8,172.2 L1004.2,172.1 L1005.6,172.1 L1007.0,172.0 L1008.5,172.0 L1009.9,171.9 L1011.3,171.9 L1012.8,171.9 L1014.3,172.0 L1015.7,172.0 L1017.2,172.0 L1018.6,172.1 L1020.1,172.2 L1021.6,172.3 L1023.0,172.3 L1024.5,172.4 L1026.0,172.5 L1027.4,172.7 L1028.9,172.8 L1030.3,172.9 L1031.8,173.0 L1033.3,173.2 L1034.7,173.3 L1036.1,173.4 L1037.6,173.6 L1039.0,173.7 L1040.5,173.9 L1041.9,174.0 L1043.3,174.2 L1044.7,174.4 L1046.2,174.5 L1047.6,174.7 L1049.0,174.9 L1050.4,175.0 L1051.8,175.2 L1053.2,175.4 L1054.7,175.5 L1056.1,175.7 L1057.5,175.9 L1058.9,176.1 L1060.3,176.3 L1061.7,176.4 L1063.1,176.6 L1064.5,176.8 L1065.9,177.0 L1067.3,177.1 L1068.7,177.3 L1070.1,177.5 L1071.5,177.7 L1072.8,177.8 L1074.2,178.0 L1075.6,178.2 L1077.0,178.3 L1078.4,178.5 L1079.8,178.7 L1081.2,178.8 L1082.6,179.0 L1084.0,179.1 L1085.4,179.3 L1086.8,179.4 L1088.2,179.6 L1089.5,179.7 L1090.9,179.8 L1092.3,180.0 L1093.7,180.1 L1095.1,180.2 L1096.5,180.3 L1097.9,180.5 L1099.3,180.6 L1100.7,180.7 L1102.1,180.8 L1103.5,180.9 L1104.9,181.0 L1106.3,181.1 L1107.7,181.2 L1109.1,181.2 L1110.5,181.3 L1111.9,181.4 L1113.3,181.5 L1114.7,181.6 L1116.1,181.6 L1117.5,181.7 L1118.9,181.8 L1120.3,181.8 L1121.7,181.9 L1123.1,181.9 L1124.5,182.0 L1125.9,182.0 L1127.3,182.1 L1128.8,182.1 L1130.2,182.2 L1131.6,182.2 L1133.0,182.2 L1134.4,182.3 L1135.8,182.3 L1137.2,182.3 L1138.6,182.4 L1140.0,182.4 L1141.4,182.4 L1142.8,182.5 L1144.2,182.5 L1145.7,182.5 L1147.1,182.5 L1148.5,182.5 L1149.9,182.5 L1151.3,182.5 L1152.7,182.6 L1154.1,182.6 L1155.5,182.6 L1156.9,182.6 L1158.4,182.6 L1159.8,182.6 L1161.2,182.6 L1162.6,182.6 L1164.0,182.6 L1165.4,182.6 L1166.8,182.6 L1168.2,182.6 L1169.7,182.6 L1171.1,182.6 L1172.5,182.6 L1173.9,182.6 L1175.3,182.6 L1176.7,182.5 L1178.1,182.5 L1179.5,182.5 L1181.0,182.5 L1182.4,182.5 L1183.8,182.5 L1185.2,182.5 L1186.6,182.5 L1188.0,182.5 L1189.4,182.4 L1190.9,182.4 L1192.3,182.4 L1193.7,182.4 L1195.1,182.4 L1196.5,182.4 L1197.9,182.4 L1199.3,182.4 L1200.8,182.3 L1202.2,182.3 L1203.6,182.3 L1205.0,182.3 L1206.4,182.3 L1207.8,182.3 L1209.2,182.3 L1210.7,182.3 L1212.1,182.3 L1213.5,182.3 L1214.9,182.3 L1216.3,182.2 L1217.7,182.2 L1219.1,182.2 L1220.5,182.2 L1222.0,182.2 L1223.4,182.2 L1224.8,182.2 L1226.2,182.2 L1227.6,182.2 L1229.0,182.3 L1230.4,182.3 L1231.8,182.3 L1233.2,182.3 L1234.7,182.3 L1236.1,182.3 L1237.5,182.3 L1238.9,182.3 L1240.3,182.4 L1241.7,182.4 L1243.1,182.4 L1244.5,182.4 L1245.9,182.4 L1247.3,182.5 L1248.7,182.5 L1250.1,182.5 L1251.6,182.6 L1253.0,182.6 L1254.4,182.6 L1255.8,182.7 L1257.2,182.7 L1258.6,182.8 L1260.0,182.8 L1261.4,182.9 L1262.8,182.9 L1264.2,183.0 L1265.6,183.1 L1267.0,183.1" fill="none" stroke="#6e6e6e" stroke-width="1.4" stroke-linejoin="round"/>
<path d="M1267.0,185.3 L1265.4,185.3 L1263.8,185.4 L1262.2,185.4 L1260.7,185.5 L1259.1,185.5 L1257.5,185.5 L1255.9,185.6 L1254.3,185.6 L1252.8,185.6 L1251.2,185.7 L1249.6,185.7 L1248.0,185.7 L1246.5,185.7 L1244.9,185.8 L1243.3,185.8 L1241.7,185.8 L1240.2,185.8 L1238.6,185.8 L1237.0,185.8 L1235.5,185.9 L1233.9,185.9 L1232.4,185.9 L1230.8,185.9 L1229.2,185.9 L1227.7,185.9 L1226.1,185.9 L1224.5,185.9 L1223.0,185.9 L1221.4,185.9 L1219.9,185.9 L1218.3,185.9 L1216.8,185.9 L1215.2,185.9 L1213.7,185.9 L1212.1,185.9 L1210.6,185.9 L1209.0,185.9 L1207.4,185.9 L1205.9,185.9 L1204.3,185.9 L1202.8,185.9 L1201.2,185.9 L1199.7,185.9 L1198.2,185.9 L1196.6,185.8 L1195.1,185.8 L1193.5,185.8 L1192.0,185.8 L1190.4,185.8 L1188.9,185.8 L1187.3,185.8 L1185.8,185.8 L1184.2,185.8 L1182.7,185.8 L1181.1,185.8 L1179.6,185.7 L1178.0,185.7 L1176.5,185.7 L1175.0,185.7 L1173.4,185.7 L1171.9,185.7 L1170.3,185.7 L1168.8,185.7 L1167.2,185.7 L1165.7,185.7 L1164.1,185.7 L1162.6,185.7 L1161.0,185.7 L1159.5,185.7 L1158.0,185.7 L1156.4,185.7 L1154.9,185.7 L1153.3,185.7 L1151.8,185.7 L1150.2,185.7 L1148.7,185.7 L1147.1,185.7 L1145.6,185.7 L1144.0,185.7 L1142.5,185.7 L1140.9,185.7 L1139.4,185.8 L1137.8,185.8 L1136.2,185.8 L1134.7,185.8 L1133.1,185.8 L1131.6,185.8 L1130.0,185.9 L1128.5,185.9 L1126.9,185.9 L1125.3,185.9 L1123.8,186.0 L1122.2,186.0 L1120.7,186.0 L1119.1,186.1 L1117.5,186.1 L1116.0,186.1 L1114.4,186.2 L1112.8,186.2 L1111.3,186.3 L1109.7,186.3 L1108.1,186.4 L1106.6,186.4 L1105.0,186.5 L1103.4,186.5 L1101.8,186.6 L1100.3,186.7 L1098.7,186.7 L1097.1,186.8 L1095.5,186.9 L1093.9,186.9 L1092.4,187.0 L1090.8,187.1 L1089.2,187.2 L1087.6,187.3 L1086.0,187.3 L1084.4,187.4 L1082.8,187.5 L1081.2,187.6 L1079.6,187.7 L1078.0,187.8 L1076.4,187.9 L1074.8,188.0 L1073.2,188.2 L1071.6,188.3 L1070.0,188.4 L1068.4,188.5 L1066.8,188.7 L1065.2,188.8 L1063.6,188.9 L1062.0,189.1 L1060.4,189.3 L1058.8,189.5 L1057.3,189.7 L1055.7,189.9 L1054.1,190.1 L1052.6,190.3 L1051.0,190.6 L1049.5,190.9 L1047.9,191.2 L1046.4,191.5 L1044.9,191.8 L1043.4,192.2 L1041.9,192.6 L1040.5,193.0 L1039.0,193.4 L1037.6,193.9 L1036.2,194.4 L1034.8,194.9 L1033.4,195.4 L1032.0,196.0 L1030.7,196.6 L1029.3,197.2 L1028.0,197.9 L1026.7,198.6 L1025.5,199.4 L1024.2,200.1 L1023.0,201.0 L1021.8,201.8 L1020.7,202.7 L1019.5,203.7 L1018.4,204.6 L1017.4,205.7 L1016.3,206.7 L1015.3,207.8 L1014.3,209.0 L1013.3,210.2 L1012.4,211.4 L1011.5,212.7 L1010.6,214.0 L1009.8,215.3 L1008.9,216.7 L1008.1,218.0 L1007.4,219.5 L1006.6,220.9 L1005.9,222.3 L1005.2,223.8 L1004.5,225.3 L1003.8,226.8 L1003.2,228.2 L1002.5,229.7 L1001.9,231.2 L1001.3,232.7 L1000.8,234.2 L1000.2,235.7 L999.7,237.2 L999.1,238.7 L998.6,240.1 L998.1,241.6 L997.7,243.1 L997.2,244.5 L996.8,246.0 L996.4,247.4 L995.9,248.9 L995.6,250.3 L995.2,251.8 L994.8,253.2 L994.5,254.7 L994.1,256.2 L993.8,257.6 L993.5,259.1 L993.2,260.6 L993.0,262.1 L992.7,263.6 L992.5,265.1 L992.2,266.6 L992.0,268.1 L991.8,269.6 L991.6,271.2 L991.5,272.8 L991.3,274.3 L991.2,275.9 L991.0,277.5 L990.9,279.1 L990.8,280.7 L990.7,282.3 L990.6,283.9 L990.5,285.6 L990.4,287.2 L990.3,288.8 L990.2,290.5 L990.1,292.1 L990.1,293.8 L990.0,295.4 L989.9,297.1 L989.8,298.7 L989.7,300.4 L989.6,302.0 L989.5,303.7 L989.4,305.3 L989.3,307.0 L989.2,308.6 L989.1,310.3 L989.0,311.9 L988.8,313.5 L988.7,315.2 L988.5,316.8 L988.3,318.4 L988.1,320.0 L987.9,321.6 L987.7,323.2 L987.4,324.7 L987.2,326.3 L986.9,327.9 L986.6,329.4 L986.3,330.9 L985.9,332.4 L985.6,333.9 L985.2,335.4 L984.8,336.9 L984.3,338.4 L983.9,339.8 L983.4,341.2 L982.9,342.6 L982.3,344.0 L981.7,345.4 L981.1,346.7 L980.5,348.1 L979.8,349.4 L979.1,350.6 L978.3,351.9 L977.6,353.1 L976.7,354.4 L975.9,355.5 L975.0,356.7 L974.1,357.9 L973.1,359.0 L972.1,360.0 L971.0,361.1 L970.0,362.1 L968.8,363.0 L967.7,364.0 L966.5,364.8 L965.3,365.7 L964.1,366.4 L962.8,367.2 L961.5,367.8 L960.2,368.4 L958.9,368.9 L957.6,369.4 L956.2,369.8 L954.8,370.2 L953.4,370.4 L951.9,370.6 L950.5,370.7 L949.0,370.7 L947.6,370.7 L946.1,370.5 L944.6,370.3 L943.1,370.1 L941.6,369.8 L940.0,369.4 L938.5,369.0 L937.0,368.5 L935.5,368.0 L933.9,367.5 L932.4,366.9 L930.9,366.3 L929.4,365.7 L927.9,365.0 L926.3,364.4 L924.8,363.7 L923.3,363.0 L921.8,362.4 L920.3,361.7 L918.9,361.0 L917.4,360.3 L915.9,359.6 L914.4,359.0 L912.9,358.3 L911.4,357.7 L909.9,357.1 L908.4,356.4 L906.9,355.8 L905.4,355.2 L903.9,354.7 L902.4,354.1 L900.9,353.5 L899.5,353.0 L898.0,352.4 L896.5,351.9 L895.0,351.3 L893.5,350.8 L892.0,350.3 L890.5,349.8 L889.0,349.3 L887.5,348.8 L886.0,348.3 L884.5,347.9 L883.0,347.4 L881.5,347.0 L880.0,346.5 L878.5,346.1 L877.1,345.6 L875.6,345.2 L874.1,344.8 L872.6,344.4 L871.1,343.9 L869.6,343.5 L868.1,343.1 L866.6,342.8 L865.1,342.4 L863.6,342.0 L862.1,341.6 L860.6,341.2 L859.1,340.9 L857.6,340.5 L856.1,340.2 L854.6,339.8 L853.1,339.5 L851.6,339.1 L850.1,338.8 L848.6,338.4 L847.1,338.1 L845.6,337.8 L844.1,337.4 L842.6,337.1 L841.1,336.8 L839.6,336.5 L838.1,336.2 L836.6,335.9 L835.0,335.5 L833.5,335.2 L832.0,334.9 L830.5,334.6 L829.0,334.3 L827.5,334.0 L826.0,333.7 L824.5,333.4 L823.0,333.1 L821.4,332.8 L819.9,332.5 L818.4,332.2 L816.9,331.9 L815.4,331.6 L813.9,331.3 L812.3,331.0 L810.8,330.7 L809.3,330.4 L807.8,330.1 L806.3,329.8 L804.7,329.5 L803.2,329.2 L801.7,328.9 L800.2,328.6 L798.6,328.3 L797.1,327.9 L795.6,327.6 L794.0,327.3 L792.5,327.0 L791.0,326.7 L789.4,326.3 L787.9,326.0 L786.4,325.7 L784.8,325.3 L783.3,325.0 L781.8,324.6 L780.2,324.3 L778.7,323.9" fill="none" stroke="#5a5af5" stroke-width="1.4" stroke-linejoin="round"/>
<path d="M778.7,323.9 L779.9,323.2 L781.2,322.5 L782.4,321.8 L783.6,321.1 L784.9,320.5 L786.2,319.8 L787.4,319.2 L788.7,318.6 L790.0,318.0 L791.3,317.5 L792.7,316.9 L794.0,316.4 L795.3,315.9 L796.7,315.4 L798.0,314.9 L799.4,314.5 L800.8,314.0 L802.1,313.6 L803.5,313.2 L804.9,312.8 L806.3,312.4 L807.7,312.0 L809.1,311.6 L810.6,311.3 L812.0,310.9 L813.4,310.6 L814.9,310.3 L816.3,310.0 L817.8,309.7 L819.2,309.4 L820.7,309.1 L822.1,308.8 L823.6,308.5 L825.1,308.2 L826.5,308.0 L828.0,307.7 L829.5,307.5 L831.0,307.2 L832.5,307.0 L833.9,306.7 L835.4,306.5 L836.9,306.3 L838.4,306.0 L839.9,305.8 L841.4,305.6 L842.9,305.4 L844.4,305.1 L845.9,304.9 L847.3,304.7 L848.8,304.5 L850.3,304.2 L851.8,304.0 L853.3,303.8 L854.8,303.5 L856.3,303.3 L857.7,303.1 L859.2,302.8 L860.7,302.6 L862.2,302.3 L863.6,302.0 L865.1,301.8 L866.5,301.5 L868.0,301.2 L869.4,300.9 L870.9,300.6 L872.3,300.3 L873.8,300.0 L875.2,299.7 L876.6,299.4 L878.0,299.0 L879.4,298.7 L880.8,298.3 L882.2,297.9 L883.6,297.5 L885.0,297.1 L886.4,296.7 L887.7,296.3 L889.1,295.9 L890.4,295.4 L891.8,294.9 L893.1,294.4 L894.4,293.9 L895.7,293.4 L897.0,292.9 L898.3,292.3 L899.6,291.8 L900.8,291.2 L902.1,290.6 L903.3,289.9 L904.6,289.3 L905.8,288.6 L907.0,287.9 L908.2,287.2 L909.4,286.5 L910.5,285.7 L911.7,285.0 L912.8,284.2 L914.0,283.3 L915.1,282.5 L916.2,281.6 L917.2,280.7 L918.3,279.8 L919.4,278.9 L920.4,277.9 L921.4,276.9 L922.4,275.9 L923.4,274.9 L924.4,273.8 L925.3,272.7 L926.3,271.6 L927.2,270.5 L928.1,269.4 L928.9,268.2 L929.8,267.0 L930.6,265.9 L931.4,264.7 L932.2,263.4 L933.0,262.2 L933.7,261.0 L934.5,259.7 L935.2,258.4 L935.8,257.1 L936.5,255.8 L937.1,254.5 L937.7,253.2 L938.3,251.9 L938.8,250.5 L939.4,249.2 L939.9,247.8 L940.3,246.5 L940.8,245.1 L941.3,243.7 L941.7,242.3 L942.1,240.9 L942.5,239.5 L942.9,238.1 L943.2,236.7 L943.6,235.3 L943.9,233.9 L944.3,232.4 L944.6,231.0 L944.9,229.5 L945.2,228.1 L945.5,226.6 L945.8,225.2 L946.1,223.7 L946.4,222.2 L946.7,220.8 L947.0,219.3 L947.2,217.8 L947.5,216.3 L947.8,214.9 L948.1,213.4 L948.4,211.9 L948.7,210.4 L949.0,208.9 L949.3,207.5 L949.6,206.0 L950.0,204.5 L950.3,203.0 L950.7,201.6 L951.0,200.1 L951.4,198.7 L951.8,197.2 L952.2,195.8 L952.6,194.3 L953.1,192.9 L953.5,191.5 L954.0,190.1 L954.5,188.7 L955.1,187.3 L955.6,185.9 L956.2,184.5 L956.8,183.2 L957.4,181.8 L958.0,180.5 L958.7,179.2 L959.4,177.9 L960.2,176.6 L960.9,175.3 L961.7,174.1 L962.5,172.9 L963.3,171.7 L964.2,170.5 L965.0,169.3 L965.9,168.2 L966.9,167.1 L967.8,166.1 L968.8,165.1 L969.8,164.1 L970.8,163.1 L971.8,162.2 L972.8,161.3 L973.9,160.5 L975.0,159.7 L976.1,158.9 L977.2,158.2 L978.4,157.5 L979.5,156.9 L980.7,156.3 L981.9,155.8 L983.1,155.3 L984.4,154.9 L985.6,154.6 L986.9,154.2 L988.2,154.0 L989.5,153.7 L990.8,153.5 L992.1,153.4 L993.4,153.3 L994.8,153.2 L996.1,153.2 L997.5,153.2 L998.9,153.2 L1000.3,153.3 L1001.7,153.4 L1003.1,153.5 L1004.5,153.7 L1005.9,153.8 L1007.4,154.0 L1008.8,154.3 L1010.2,154.5 L1011.7,154.8 L1013.2,155.1 L1014.6,155.4 L1016.1,155.7 L1017.6,156.1 L1019.1,156.5 L1020.5,156.8 L1022.0,157.2 L1023.5,157.6 L1025.0,158.0 L1026.5,158.4 L1028.0,158.8 L1029.5,159.2 L1031.0,159.7 L1032.5,160.1 L1033.9,160.5 L1035.4,160.9 L1036.9,161.3 L1038.4,161.7 L1039.9,162.1 L1041.3,162.5 L1042.8,162.9 L1044.3,163.3 L1045.7,163.7 L1047.2,164.0 L1048.7,164.4 L1050.1,164.7 L1051.6,165.1 L1053.0,165.4 L1054.5,165.8 L1055.9,166.1 L1057.3,166.4 L1058.8,166.7 L1060.2,167.0 L1061.6,167.3 L1063.1,167.6 L1064.5,167.9 L1065.9,168.2 L1067.4,168.5 L1068.8,168.7 L1070.2,169.0 L1071.6,169.3 L1073.0,169.5 L1074.5,169.8 L1075.9,170.0 L1077.3,170.3 L1078.7,170.5 L1080.1,170.7 L1081.5,170.9 L1083.0,171.2 L1084.4,171.4 L1085.8,171.6 L1087.2,171.8 L1088.6,172.0 L1090.0,172.2 L1091.4,172.4 L1092.8,172.6 L1094.3,172.8 L1095.7,173.0 L1097.1,173.1 L1098.5,173.3 L1099.9,173.5 L1101.3,173.7 L1102.8,173.8 L1104.2,174.0 L1105.6,174.2 L1107.0,174.3 L1108.4,174.5 L1109.9,174.6 L1111.3,174.8 L1112.7,174.9 L1114.1,175.1 L1115.6,175.2 L1117.0,175.3 L1118.4,175.5 L1119.9,175.6 L1121.3,175.7 L1122.8,175.9 L1124.2,176.0 L1125.6,176.1 L1127.1,176.2 L1128.5,176.4 L1130.0,176.5 L1131.4,176.6 L1132.8,176.7 L1134.3,176.8 L1135.7,176.9 L1137.2,177.0 L1138.6,177.1 L1140.1,177.2 L1141.5,177.3 L1143.0,177.4 L1144.5,177.5 L1145.9,177.6 L1147.4,177.7 L1148.8,177.8 L1150.3,177.9 L1151.7,178.0 L1153.2,178.0 L1154.7,178.1 L1156.1,178.2 L1157.6,178.3 L1159.0,178.4 L1160.5,178.4 L1162.0,178.5 L1163.4,178.6 L1164.9,178.6 L1166.4,178.7 L1167.8,178.8 L1169.3,178.8 L1170.8,178.9 L1172.2,179.0 L1173.7,179.0 L1175.2,179.1 L1176.6,179.1 L1178.1,179.2 L1179.6,179.3 L1181.0,179.3 L1182.5,179.4 L1184.0,179.4 L1185.4,179.5 L1186.9,179.5 L1188.4,179.6 L1189.8,179.6 L1191.3,179.7 L1192.8,179.7 L1194.2,179.8 L1195.7,179.8 L1197.2,179.8 L1198.6,179.9 L1200.1,179.9 L1201.6,180.0 L1203.0,180.0 L1204.5,180.1 L1206.0,180.1 L1207.4,180.1 L1208.9,180.2 L1210.4,180.2 L1211.8,180.2 L1213.3,180.3 L1214.8,180.3 L1216.2,180.4 L1217.7,180.4 L1219.2,180.4 L1220.6,180.5 L1222.1,180.5 L1223.6,180.5 L1225.0,180.6 L1226.5,180.6 L1227.9,180.6 L1229.4,180.7 L1230.9,180.7 L1232.3,180.7 L1233.8,180.8 L1235.2,180.8 L1236.7,180.8 L1238.1,180.9 L1239.6,180.9 L1241.0,180.9 L1242.5,181.0 L1243.9,181.0 L1245.4,181.0 L1246.8,181.1 L1248.3,181.1 L1249.7,181.1 L1251.2,181.2 L1252.6,181.2 L1254.1,181.2 L1255.5,181.3 L1256.9,181.3 L1258.4,181.4 L1259.8,181.4 L1261.3,181.4 L1262.7,181.5 L1264.1,181.5 L1265.6,181.6 L1267.0,181.6" fill="none" stroke="#5a5af5" stroke-width="1.4" stroke-linejoin="round"/>
<path d="M1267.0,185.9 L1265.3,186.0 L1263.6,186.1 L1261.9,186.2 L1260.2,186.3 L1258.5,186.4 L1256.8,186.5 L1255.1,186.6 L1253.4,186.7 L1251.7,186.8 L1250.0,186.8 L1248.3,186.9 L1246.6,187.0 L1244.9,187.0 L1243.2,187.1 L1241.5,187.1 L1239.8,187.2 L1238.1,187.2 L1236.4,187.2 L1234.7,187.3 L1233.0,187.3 L1231.3,187.3 L1229.6,187.3 L1227.9,187.3 L1226.2,187.3 L1224.5,187.3 L1222.8,187.3 L1221.1,187.3 L1219.4,187.3 L1217.7,187.3 L1216.0,187.3 L1214.3,187.3 L1212.6,187.3 L1210.9,187.3 L1209.2,187.3 L1207.4,187.2 L1205.7,187.2 L1204.0,187.2 L1202.3,187.2 L1200.6,187.1 L1198.9,187.1 L1197.2,187.1 L1195.5,187.1 L1193.8,187.0 L1192.1,187.0 L1190.4,186.9 L1188.7,186.9 L1187.0,186.9 L1185.3,186.8 L1183.6,186.8 L1181.9,186.8 L1180.2,186.7 L1178.5,186.7 L1176.8,186.7 L1175.1,186.6 L1173.4,186.6 L1171.7,186.5 L1169.9,186.5 L1168.2,186.5 L1166.5,186.4 L1164.8,186.4 L1163.1,186.4 L1161.4,186.4 L1159.7,186.3 L1158.0,186.3 L1156.3,186.3 L1154.6,186.3 L1152.9,186.2 L1151.2,186.2 L1149.5,186.2 L1147.8,186.2 L1146.1,186.2 L1144.4,186.2 L1142.7,186.2 L1141.0,186.2 L1139.3,186.2 L1137.6,186.2 L1135.9,186.2 L1134.2,186.2 L1132.5,186.2 L1130.7,186.2 L1129.0,186.3 L1127.3,186.3 L1125.6,186.3 L1123.9,186.4 L1122.2,186.4 L1120.5,186.4 L1118.8,186.5 L1117.1,186.6 L1115.4,186.6 L1113.7,186.7 L1112.0,186.7 L1110.3,186.8 L1108.6,186.9 L1106.9,187.0 L1105.2,187.1 L1103.5,187.2 L1101.8,187.3 L1100.1,187.4 L1098.4,187.5 L1096.7,187.6 L1095.0,187.8 L1093.3,187.9 L1091.6,188.1 L1089.9,188.2 L1088.2,188.4 L1086.5,188.5 L1084.8,188.7 L1083.1,188.9 L1081.4,189.1 L1079.7,189.3 L1078.0,189.5 L1076.3,189.7 L1074.6,189.9 L1072.9,190.1 L1071.2,190.4 L1069.5,190.6 L1067.8,190.9 L1066.1,191.1 L1064.4,191.4 L1062.8,191.7 L1061.1,192.0 L1059.4,192.3 L1057.7,192.6 L1056.0,192.9 L1054.3,193.2 L1052.6,193.6 L1050.9,193.9 L1049.3,194.3 L1047.6,194.7 L1046.0,195.1 L1044.3,195.6 L1042.7,196.0 L1041.1,196.5 L1039.5,197.1 L1038.0,197.6 L1036.4,198.2 L1034.9,198.8 L1033.4,199.4 L1031.9,200.1 L1030.5,200.8 L1029.0,201.6 L1027.6,202.4 L1026.3,203.2 L1025.0,204.1 L1023.7,205.0 L1022.4,206.0 L1021.2,207.0 L1020.0,208.1 L1018.8,209.2 L1017.7,210.4 L1016.7,211.6 L1015.6,212.9 L1014.6,214.2 L1013.7,215.6 L1012.8,217.0 L1011.9,218.4 L1011.1,219.9 L1010.2,221.4 L1009.5,222.9 L1008.7,224.5 L1008.0,226.1 L1007.3,227.7 L1006.6,229.4 L1006.0,231.0 L1005.4,232.7 L1004.8,234.4 L1004.2,236.1 L1003.6,237.9 L1003.1,239.6 L1002.5,241.3 L1002.0,243.0 L1001.5,244.8 L1001.1,246.5 L1000.6,248.2 L1000.1,249.9 L999.7,251.6 L999.2,253.3 L998.8,255.0 L998.4,256.7 L998.0,258.4 L997.6,260.1 L997.2,261.8 L996.9,263.5 L996.5,265.2 L996.1,266.9 L995.8,268.5 L995.5,270.2 L995.1,271.9 L994.8,273.5 L994.5,275.2 L994.2,276.9 L993.9,278.5 L993.7,280.2 L993.4,281.9 L993.1,283.5 L992.9,285.2 L992.6,286.8 L992.4,288.5 L992.2,290.2 L991.9,291.8 L991.7,293.5 L991.5,295.1 L991.3,296.8 L991.1,298.4 L990.9,300.1 L990.7,301.8 L990.5,303.4 L990.3,305.1 L990.2,306.7 L990.0,308.4 L989.8,310.1 L989.7,311.7 L989.5,313.4 L989.3,315.1 L989.2,316.7 L989.0,318.4 L988.9,320.1 L988.7,321.8 L988.6,323.4 L988.4,325.1 L988.3,326.8 L988.1,328.5 L988.0,330.2 L987.8,331.9 L987.7,333.6 L987.5,335.3 L987.4,337.0 L987.2,338.7 L987.0,340.4 L986.8,342.1 L986.7,343.8 L986.5,345.5 L986.3,347.2 L986.1,348.9 L985.9,350.6 L985.6,352.4 L985.4,354.1 L985.2,355.8 L984.9,357.6 L984.7,359.3 L984.4,361.0 L984.1,362.8 L983.9,364.5 L983.5,366.3 L983.2,368.0 L982.9,369.8 L982.6,371.5 L982.2,373.3 L981.8,375.0 L981.4,376.7 L980.9,378.4 L980.5,380.2 L980.0,381.8 L979.4,383.5 L978.9,385.1 L978.3,386.8 L977.6,388.3 L976.9,389.9 L976.2,391.4 L975.4,392.9 L974.5,394.4 L973.7,395.8 L972.7,397.1 L971.7,398.5 L970.7,399.7 L969.7,401.0 L968.6,402.2 L967.4,403.3 L966.2,404.4 L965.0,405.4 L963.8,406.4 L962.5,407.3 L961.2,408.2 L959.8,409.0 L958.5,409.7 L957.1,410.4 L955.6,411.0 L954.2,411.5 L952.7,412.0 L951.2,412.4 L949.7,412.7 L948.1,413.0 L946.6,413.1 L945.0,413.2 L943.4,413.3 L941.8,413.2 L940.2,413.1 L938.6,412.9 L937.0,412.7 L935.3,412.4 L933.7,412.1 L932.1,411.7 L930.5,411.3 L928.9,410.8 L927.3,410.2 L925.7,409.7 L924.1,409.1 L922.5,408.4 L920.9,407.8 L919.3,407.1 L917.7,406.3 L916.1,405.6 L914.6,404.8 L913.0,404.0 L911.4,403.2 L909.9,402.4 L908.3,401.6 L906.8,400.7 L905.2,399.9 L903.6,399.0 L902.1,398.2 L900.5,397.3 L899.0,396.5 L897.4,395.6 L895.9,394.8 L894.3,394.0 L892.8,393.2 L891.2,392.4 L889.7,391.5 L888.1,390.8 L886.6,390.0 L885.0,389.2 L883.4,388.4 L881.9,387.6 L880.3,386.9 L878.8,386.1 L877.2,385.4 L875.7,384.6 L874.1,383.9 L872.6,383.2 L871.0,382.4 L869.5,381.7 L867.9,381.0 L866.3,380.3 L864.8,379.6 L863.2,378.9 L861.7,378.3 L860.1,377.6 L858.5,376.9 L857.0,376.3 L855.4,375.6 L853.8,375.0 L852.3,374.4 L850.7,373.7 L849.1,373.1 L847.5,372.5 L846.0,371.9 L844.4,371.3 L842.8,370.7 L841.2,370.1 L839.7,369.6 L838.1,369.0 L836.5,368.4 L834.9,367.9 L833.3,367.3 L831.7,366.8 L830.1,366.3 L828.5,365.8 L826.9,365.2 L825.3,364.7 L823.7,364.2 L822.1,363.8 L820.5,363.3 L818.9,362.8 L817.3,362.3 L815.7,361.9 L814.1,361.4 L812.5,361.0 L810.8,360.5 L809.2,360.1 L807.6,359.7 L806.0,359.3 L804.3,358.9 L802.7,358.5 L801.0,358.1 L799.4,357.7 L797.8,357.4 L796.1,357.0 L794.5,356.7 L792.8,356.3 L791.1,356.0 L789.5,355.7 L787.8,355.3 L786.1,355.0 L784.5,354.7 L782.8,354.4 L781.1,354.1 L779.4,353.9 L777.7,353.6 L776.0,353.3 L774.3,353.1 L772.6,352.8 L770.9,352.6 L769.2,352.4 L767.5,352.2 L765.8,352.0 L764.1,351.8 L762.3,351.6 L760.6,351.4" fill="none" stroke="#f55a5a" stroke-width="1.4" stroke-linejoin="round"/>
<path d="M768.3,344.9 L769.8,344.2 L771.2,343.5 L772.7,342.8 L774.2,342.1 L775.7,341.5 L777.2,340.9 L778.7,340.3 L780.2,339.7 L781.6,339.1 L783.1,338.5 L784.6,338.0 L786.1,337.5 L787.6,337.0 L789.1,336.5 L790.6,336.0 L792.1,335.5 L793.6,335.0 L795.1,334.6 L796.6,334.1 L798.1,333.7 L799.7,333.3 L801.2,332.9 L802.7,332.5 L804.2,332.1 L805.7,331.7 L807.2,331.3 L808.8,330.9 L810.3,330.6 L811.8,330.2 L813.3,329.9 L814.9,329.5 L816.4,329.2 L817.9,328.8 L819.5,328.5 L821.0,328.1 L822.5,327.8 L824.1,327.4 L825.6,327.1 L827.2,326.7 L828.7,326.4 L830.3,326.1 L831.8,325.7 L833.4,325.4 L834.9,325.0 L836.5,324.6 L838.1,324.3 L839.6,323.9 L841.2,323.5 L842.8,323.2 L844.3,322.8 L845.9,322.4 L847.5,322.0 L849.0,321.6 L850.6,321.2 L852.2,320.7 L853.8,320.3 L855.3,319.9 L856.9,319.4 L858.5,318.9 L860.1,318.5 L861.6,318.0 L863.2,317.5 L864.7,317.0 L866.3,316.5 L867.8,315.9 L869.4,315.4 L870.9,314.8 L872.4,314.3 L874.0,313.7 L875.5,313.1 L877.0,312.5 L878.5,311.9 L880.0,311.2 L881.4,310.6 L882.9,309.9 L884.4,309.3 L885.8,308.6 L887.2,307.8 L888.6,307.1 L890.0,306.4 L891.4,305.6 L892.8,304.8 L894.2,304.0 L895.5,303.2 L896.8,302.4 L898.2,301.5 L899.5,300.7 L900.7,299.8 L902.0,298.9 L903.2,297.9 L904.5,297.0 L905.7,296.0 L906.8,295.0 L908.0,294.0 L909.1,293.0 L910.3,291.9 L911.4,290.9 L912.4,289.8 L913.5,288.7 L914.5,287.5 L915.6,286.4 L916.6,285.2 L917.6,284.0 L918.5,282.8 L919.5,281.6 L920.4,280.4 L921.3,279.1 L922.2,277.9 L923.1,276.6 L923.9,275.3 L924.7,274.0 L925.6,272.7 L926.3,271.3 L927.1,270.0 L927.9,268.6 L928.6,267.2 L929.3,265.8 L930.1,264.4 L930.7,263.0 L931.4,261.5 L932.1,260.1 L932.7,258.6 L933.3,257.2 L933.9,255.7 L934.5,254.2 L935.1,252.7 L935.6,251.2 L936.2,249.7 L936.7,248.2 L937.2,246.6 L937.7,245.1 L938.1,243.5 L938.6,242.0 L939.0,240.4 L939.4,238.8 L939.8,237.3 L940.2,235.7 L940.6,234.1 L941.0,232.5 L941.3,230.9 L941.6,229.3 L941.9,227.7 L942.2,226.1 L942.5,224.4 L942.8,222.8 L943.1,221.2 L943.3,219.6 L943.5,217.9 L943.8,216.3 L944.0,214.7 L944.2,213.0 L944.4,211.4 L944.6,209.8 L944.7,208.1 L944.9,206.5 L945.1,204.8 L945.3,203.2 L945.5,201.6 L945.6,199.9 L945.8,198.3 L946.0,196.7 L946.1,195.0 L946.3,193.4 L946.5,191.8 L946.7,190.1 L946.9,188.5 L947.1,186.9 L947.3,185.3 L947.5,183.7 L947.8,182.1 L948.0,180.5 L948.2,178.9 L948.5,177.3 L948.8,175.7 L949.1,174.1 L949.4,172.5 L949.7,171.0 L950.0,169.4 L950.4,167.8 L950.8,166.3 L951.2,164.8 L951.6,163.2 L952.0,161.7 L952.5,160.2 L953.0,158.7 L953.5,157.2 L954.0,155.7 L954.6,154.2 L955.2,152.8 L955.8,151.3 L956.5,149.9 L957.1,148.4 L957.8,147.0 L958.6,145.6 L959.4,144.2 L960.2,142.8 L961.0,141.5 L961.8,140.2 L962.7,138.9 L963.7,137.6 L964.6,136.4 L965.6,135.2 L966.6,134.0 L967.6,132.9 L968.7,131.8 L969.8,130.7 L970.9,129.7 L972.0,128.7 L973.2,127.8 L974.4,126.9 L975.6,126.1 L976.9,125.3 L978.1,124.6 L979.4,123.9 L980.8,123.3 L982.1,122.8 L983.5,122.3 L984.9,121.9 L986.3,121.6 L987.8,121.2 L989.2,121.0 L990.7,120.8 L992.2,120.6 L993.7,120.5 L995.3,120.4 L996.8,120.4 L998.3,120.4 L999.9,120.5 L1001.5,120.6 L1003.0,120.7 L1004.6,120.9 L1006.2,121.1 L1007.8,121.3 L1009.4,121.5 L1011.0,121.8 L1012.6,122.1 L1014.2,122.4 L1015.8,122.7 L1017.4,123.1 L1018.9,123.5 L1020.5,123.8 L1022.1,124.2 L1023.6,124.7 L1025.2,125.1 L1026.8,125.5 L1028.3,126.0 L1029.9,126.5 L1031.4,126.9 L1033.0,127.4 L1034.5,127.9 L1036.0,128.4 L1037.6,129.0 L1039.1,129.5 L1040.6,130.0 L1042.2,130.6 L1043.7,131.1 L1045.2,131.7 L1046.7,132.3 L1048.2,132.8 L1049.7,133.4 L1051.2,134.0 L1052.8,134.6 L1054.3,135.2 L1055.8,135.8 L1057.3,136.4 L1058.8,137.0 L1060.3,137.6 L1061.8,138.2 L1063.3,138.8 L1064.8,139.4 L1066.3,140.0 L1067.8,140.6 L1069.3,141.2 L1070.8,141.8 L1072.3,142.4 L1073.8,142.9 L1075.3,143.5 L1076.8,144.1 L1078.3,144.7 L1079.8,145.3 L1081.3,145.8 L1082.8,146.4 L1084.3,146.9 L1085.8,147.5 L1087.3,148.0 L1088.9,148.5 L1090.4,149.1 L1091.9,149.6 L1093.4,150.1 L1094.9,150.6 L1096.5,151.0 L1098.0,151.5 L1099.5,152.0 L1101.0,152.4 L1102.6,152.9 L1104.1,153.3 L1105.6,153.7 L1107.2,154.2 L1108.7,154.6 L1110.3,155.0 L1111.8,155.4 L1113.4,155.8 L1114.9,156.2 L1116.4,156.5 L1118.0,156.9 L1119.5,157.3 L1121.1,157.6 L1122.6,158.0 L1124.2,158.3 L1125.8,158.6 L1127.3,159.0 L1128.9,159.3 L1130.4,159.6 L1132.0,159.9 L1133.6,160.2 L1135.1,160.5 L1136.7,160.8 L1138.3,161.1 L1139.8,161.3 L1141.4,161.6 L1143.0,161.9 L1144.5,162.1 L1146.1,162.4 L1147.7,162.6 L1149.3,162.9 L1150.8,163.1 L1152.4,163.3 L1154.0,163.6 L1155.6,163.8 L1157.2,164.0 L1158.7,164.2 L1160.3,164.4 L1161.9,164.6 L1163.5,164.8 L1165.1,165.0 L1166.7,165.2 L1168.3,165.4 L1169.8,165.6 L1171.4,165.7 L1173.0,165.9 L1174.6,166.1 L1176.2,166.2 L1177.8,166.4 L1179.4,166.6 L1181.0,166.7 L1182.6,166.9 L1184.2,167.0 L1185.7,167.2 L1187.3,167.3 L1188.9,167.4 L1190.5,167.6 L1192.1,167.7 L1193.7,167.8 L1195.3,168.0 L1196.9,168.1 L1198.5,168.2 L1200.1,168.3 L1201.7,168.5 L1203.3,168.6 L1204.9,168.7 L1206.5,168.8 L1208.1,168.9 L1209.7,169.0 L1211.3,169.2 L1212.9,169.3 L1214.5,169.4 L1216.1,169.5 L1217.7,169.6 L1219.3,169.7 L1220.9,169.8 L1222.5,169.9 L1224.1,170.0 L1225.6,170.1 L1227.2,170.2 L1228.8,170.3 L1230.4,170.4 L1232.0,170.5 L1233.6,170.6 L1235.2,170.7 L1236.8,170.8 L1238.4,170.9 L1240.0,171.0 L1241.6,171.1 L1243.2,171.2 L1244.8,171.3 L1246.4,171.4 L1248.0,171.5 L1249.6,171.6 L1251.1,171.8 L1252.7,171.9 L1254.3,172.0 L1255.9,172.1 L1257.5,172.2 L1259.1,172.3 L1260.7,172.4 L1262.2,172.6 L1263.8,172.7 L1265.4,172.8 L1267.0,172.9" fill="none" stroke="#f55a5a" stroke-width="1.4" stroke-linejoin="round"/>
<text transform="translate(337,19) scale(1.08,1)" font-family="Liberation Serif" font-weight="bold" font-size="18" text-anchor="middle" fill="#000" >Stationary Glassy Carbon Disc</text>
<text transform="translate(337,41.5) scale(1.08,1)" font-family="Liberation Serif" font-weight="bold" font-size="18" text-anchor="middle" fill="#000" >0.1 M TBAPF<tspan font-size="9.5" dy="6" dx="0.5">6</tspan><tspan dy="-6"> in DMSO</tspan></text>
<text transform="translate(337,69.5) scale(1.08,1)" font-family="Liberation Serif" font-weight="bold" font-size="18" text-anchor="middle" fill="#000" >100 % O<tspan font-size="9.5" dy="6" dx="0.5">2</tspan><tspan dy="-6"> Saturated</tspan></text>
<text transform="translate(25.5,250) rotate(-90) scale(1,1.1)" font-family="Liberation Serif" font-weight="bold" font-size="28.8" text-anchor="middle">Current / A</text>
<text transform="translate(228,502) scale(1.08,1)" font-family="Liberation Serif" font-weight="bold" font-size="23.5" text-anchor="start" fill="#000" >Potential from Ag/Ag</text>
<path d="M461,487 H473.5 M467.2,481.3 V492.6" stroke="#111" stroke-width="1.9" fill="none"/>
<rect x="90" y="82" width="509" height="355.5" fill="none" stroke="#111" stroke-width="3"/>
<line x1="85" y1="82.0" x2="90" y2="82.0" stroke="#111" stroke-width="1.5"/>
<text transform="translate(77.5,86.2) scale(1.05,1)" font-family="Liberation Serif" font-weight="bold" font-size="12" text-anchor="end" fill="#2a2a2a" >4e-4</text>
<line x1="85" y1="126.4" x2="90" y2="126.4" stroke="#111" stroke-width="1.5"/>
<text transform="translate(77.5,130.6375) scale(1.05,1)" font-family="Liberation Serif" font-weight="bold" font-size="12" text-anchor="end" fill="#2a2a2a" >3e-4</text>
<line x1="85" y1="170.9" x2="90" y2="170.9" stroke="#111" stroke-width="1.5"/>
<text transform="translate(77.5,175.075) scale(1.05,1)" font-family="Liberation Serif" font-weight="bold" font-size="12" text-anchor="end" fill="#2a2a2a" >2e-4</text>
<line x1="85" y1="215.3" x2="90" y2="215.3" stroke="#111" stroke-width="1.5"/>
<text transform="translate(77.5,219.5125) scale(1.05,1)" font-family="Liberation Serif" font-weight="bold" font-size="12" text-anchor="end" fill="#2a2a2a" >1e-4</text>
<line x1="85" y1="259.8" x2="90" y2="259.8" stroke="#111" stroke-width="1.5"/>
<text transform="translate(56,263.95) scale(1.1,1)" font-family="Liberation Serif" font-weight="bold" font-size="12" text-anchor="middle" fill="#2a2a2a" >0</text>
<line x1="85" y1="304.2" x2="90" y2="304.2" stroke="#111" stroke-width="1.5"/>
<text transform="translate(77.5,308.3875) scale(1.05,1)" font-family="Liberation Serif" font-weight="bold" font-size="12" text-anchor="end" fill="#2a2a2a" >-1e-4</text>
<line x1="85" y1="348.6" x2="90" y2="348.6" stroke="#111" stroke-width="1.5"/>
<text transform="translate(77.5,352.825) scale(1.05,1)" font-family="Liberation Serif" font-weight="bold" font-size="12" text-anchor="end" fill="#2a2a2a" >-2e-4</text>
<line x1="85" y1="393.1" x2="90" y2="393.1" stroke="#111" stroke-width="1.5"/>
<text transform="translate(77.5,397.2625) scale(1.05,1)" font-family="Liberation Serif" font-weight="bold" font-size="12" text-anchor="end" fill="#2a2a2a" >-3e-4</text>
<line x1="85" y1="437.5" x2="90" y2="437.5" stroke="#111" stroke-width="1.5"/>
<text transform="translate(77.5,441.7) scale(1.05,1)" font-family="Liberation Serif" font-weight="bold" font-size="12" text-anchor="end" fill="#2a2a2a" >-4e-4</text>
<line x1="90.0" y1="437.5" x2="90.0" y2="442.5" stroke="#111" stroke-width="1.5"/>
<text transform="translate(90.0,462.5) scale(1.12,1)" font-family="Liberation Serif" font-weight="bold" font-size="12" text-anchor="middle" fill="#2a2a2a" >-2.0</text>
<line x1="191.8" y1="437.5" x2="191.8" y2="442.5" stroke="#111" stroke-width="1.5"/>
<text transform="translate(191.8,462.5) scale(1.12,1)" font-family="Liberation Serif" font-weight="bold" font-size="12" text-anchor="middle" fill="#2a2a2a" >-1.5</text>
<line x1="293.6" y1="437.5" x2="293.6" y2="442.5" stroke="#111" stroke-width="1.5"/>
<text transform="translate(293.6,462.5) scale(1.12,1)" font-family="Liberation Serif" font-weight="bold" font-size="12" text-anchor="middle" fill="#2a2a2a" >-1.0</text>
<line x1="395.4" y1="437.5" x2="395.4" y2="442.5" stroke="#111" stroke-width="1.5"/>
<text transform="translate(395.4,462.5) scale(1.12,1)" font-family="Liberation Serif" font-weight="bold" font-size="12" text-anchor="middle" fill="#2a2a2a" >-0.5</text>
<line x1="497.2" y1="437.5" x2="497.2" y2="442.5" stroke="#111" stroke-width="1.5"/>
<text transform="translate(497.2,462.5) scale(1.12,1)" font-family="Liberation Serif" font-weight="bold" font-size="12" text-anchor="middle" fill="#2a2a2a" >0.0</text>
<line x1="599.0" y1="437.5" x2="599.0" y2="442.5" stroke="#111" stroke-width="1.5"/>
<text transform="translate(599.0,462.5) scale(1.12,1)" font-family="Liberation Serif" font-weight="bold" font-size="12" text-anchor="middle" fill="#2a2a2a" >0.5</text>
<rect x="464" y="81.5" width="77.5" height="63.5" fill="#fff" stroke="#111" stroke-width="2"/>
<text x="501" y="126" font-family="Liberation Sans" font-size="33" text-anchor="middle" fill="#111">A</text>
<rect x="478.5" y="282.3" width="119.5" height="156" fill="#fff" stroke="#333" stroke-width="1.5"/>
<circle cx="504" cy="301.0" r="2.4" fill="#000"/>
<text transform="translate(527.5,306.0) scale(1.08,1)" font-family="Liberation Serif" font-weight="bold" font-size="12.5" text-anchor="start" fill="#2a2a2a" >20 mVs<tspan font-size="8" dx="1.8" dy="-6.5">-1</tspan></text>
<circle cx="504" cy="320.6" r="2.4" fill="#e03020"/>
<text transform="translate(527.5,325.6) scale(1.08,1)" font-family="Liberation Serif" font-weight="bold" font-size="12.5" text-anchor="start" fill="#2a2a2a" >40 mVs<tspan font-size="8" dx="1.8" dy="-6.5">-1</tspan></text>
<circle cx="504" cy="340.2" r="2.4" fill="#30e030"/>
<text transform="translate(527.5,345.2) scale(1.08,1)" font-family="Liberation Serif" font-weight="bold" font-size="12.5" text-anchor="start" fill="#2a2a2a" >100 mVs<tspan font-size="8" dx="1.8" dy="-6.5">-1</tspan></text>
<circle cx="504" cy="359.8" r="2.4" fill="#2020c0"/>
<text transform="translate(527.5,364.8) scale(1.08,1)" font-family="Liberation Serif" font-weight="bold" font-size="12.5" text-anchor="start" fill="#2a2a2a" >200 mVs<tspan font-size="8" dx="1.8" dy="-6.5">-1</tspan></text>
<circle cx="504" cy="379.4" r="2.4" fill="#e040e0"/>
<text transform="translate(527.5,384.4) scale(1.08,1)" font-family="Liberation Serif" font-weight="bold" font-size="12.5" text-anchor="start" fill="#2a2a2a" >300 mVs<tspan font-size="8" dx="1.8" dy="-6.5">-1</tspan></text>
<circle cx="504" cy="399.0" r="2.4" fill="#502020"/>
<text transform="translate(527.5,404.0) scale(1.08,1)" font-family="Liberation Serif" font-weight="bold" font-size="12.5" text-anchor="start" fill="#2a2a2a" >400 mVs<tspan font-size="8" dx="1.8" dy="-6.5">-1</tspan></text>
<circle cx="504" cy="418.6" r="2.4" fill="#40e0e0"/>
<text transform="translate(527.5,423.6) scale(1.08,1)" font-family="Liberation Serif" font-weight="bold" font-size="12.5" text-anchor="start" fill="#2a2a2a" >500 mVs<tspan font-size="8" dx="1.8" dy="-6.5">-1</tspan></text>
<rect x="90" y="82" width="509" height="355.5" fill="none" stroke="#111" stroke-width="3"/>
<text transform="translate(973,69.6) scale(1.13,1)" font-family="Liberation Sans" font-size="19" text-anchor="middle" fill="#222" stroke="#222" stroke-width="0.2" >0.2M TBAPF<tspan font-size="13" dy="5">6</tspan><tspan dy="-5"> in PC</tspan></text>
<line x1="709.3" y1="81.3" x2="709.3" y2="460" stroke="#888" stroke-width="1.6"/>
<line x1="709.3" y1="460" x2="1267.6" y2="460" stroke="#888" stroke-width="1.6"/>
<line x1="709.3" y1="81.3" x2="1267.6" y2="81.3" stroke="#999" stroke-width="1.2"/>
<line x1="1267.6" y1="81.3" x2="1267.6" y2="460" stroke="#999" stroke-width="1.2"/>
<line x1="703.3" y1="81.3" x2="709.3" y2="81.3" stroke="#888" stroke-width="1.3"/>
<text transform="translate(696.2,86.3) scale(1.12,1)" font-family="Liberation Sans" font-size="14" text-anchor="end" fill="#333" stroke="#333" stroke-width="0.55" >0.6</text>
<line x1="703.3" y1="115.7" x2="709.3" y2="115.7" stroke="#888" stroke-width="1.3"/>
<text transform="translate(696.2,120.72727272727272) scale(1.12,1)" font-family="Liberation Sans" font-size="14" text-anchor="end" fill="#333" stroke="#333" stroke-width="0.55" >0.4</text>
<line x1="703.3" y1="150.2" x2="709.3" y2="150.2" stroke="#888" stroke-width="1.3"/>
<text transform="translate(696.2,155.15454545454543) scale(1.12,1)" font-family="Liberation Sans" font-size="14" text-anchor="end" fill="#333" stroke="#333" stroke-width="0.55" >0.2</text>
<line x1="703.3" y1="184.6" x2="709.3" y2="184.6" stroke="#888" stroke-width="1.3"/>
<text transform="translate(696.2,189.58181818181816) scale(1.12,1)" font-family="Liberation Sans" font-size="14" text-anchor="end" fill="#333" stroke="#333" stroke-width="0.55" >0.0</text>
<line x1="703.3" y1="219.0" x2="709.3" y2="219.0" stroke="#888" stroke-width="1.3"/>
<text transform="translate(696.2,224.0090909090909) scale(1.12,1)" font-family="Liberation Sans" font-size="14" text-anchor="end" fill="#333" stroke="#333" stroke-width="0.55" >-0.2</text>
<line x1="703.3" y1="253.4" x2="709.3" y2="253.4" stroke="#888" stroke-width="1.3"/>
<text transform="translate(696.2,258.43636363636364) scale(1.12,1)" font-family="Liberation Sans" font-size="14" text-anchor="end" fill="#333" stroke="#333" stroke-width="0.55" >-0.4</text>
<line x1="703.3" y1="287.9" x2="709.3" y2="287.9" stroke="#888" stroke-width="1.3"/>
<text transform="translate(696.2,292.8636363636364) scale(1.12,1)" font-family="Liberation Sans" font-size="14" text-anchor="end" fill="#333" stroke="#333" stroke-width="0.55" >-0.6</text>
<line x1="703.3" y1="322.3" x2="709.3" y2="322.3" stroke="#888" stroke-width="1.3"/>
<text transform="translate(696.2,327.2909090909091) scale(1.12,1)" font-family="Liberation Sans" font-size="14" text-anchor="end" fill="#333" stroke="#333" stroke-width="0.55" >-0.8</text>
<line x1="703.3" y1="356.7" x2="709.3" y2="356.7" stroke="#888" stroke-width="1.3"/>
<text transform="translate(696.2,361.7181818181818) scale(1.12,1)" font-family="Liberation Sans" font-size="14" text-anchor="end" fill="#333" stroke="#333" stroke-width="0.55" >-1.0</text>
<line x1="703.3" y1="391.1" x2="709.3" y2="391.1" stroke="#888" stroke-width="1.3"/>
<text transform="translate(696.2,396.1454545454546) scale(1.12,1)" font-family="Liberation Sans" font-size="14" text-anchor="end" fill="#333" stroke="#333" stroke-width="0.55" >-1.2</text>
<line x1="703.3" y1="425.6" x2="709.3" y2="425.6" stroke="#888" stroke-width="1.3"/>
<text transform="translate(696.2,430.57272727272726) scale(1.12,1)" font-family="Liberation Sans" font-size="14" text-anchor="end" fill="#333" stroke="#333" stroke-width="0.55" >-1.4</text>
<line x1="703.3" y1="460.0" x2="709.3" y2="460.0" stroke="#888" stroke-width="1.3"/>
<text transform="translate(696.2,465.0) scale(1.12,1)" font-family="Liberation Sans" font-size="14" text-anchor="end" fill="#333" stroke="#333" stroke-width="0.55" >-1.6</text>
<line x1="709.3" y1="460" x2="709.3" y2="466" stroke="#888" stroke-width="1.3"/>
<text transform="translate(709.3,485.5) scale(1.12,1)" font-family="Liberation Sans" font-size="14" text-anchor="middle" fill="#333" stroke="#333" stroke-width="0.55" >-1.8</text>
<line x1="848.9" y1="460" x2="848.9" y2="466" stroke="#888" stroke-width="1.3"/>
<text transform="translate(848.8749999999999,485.5) scale(1.12,1)" font-family="Liberation Sans" font-size="14" text-anchor="middle" fill="#333" stroke="#333" stroke-width="0.55" >-1.6</text>
<line x1="988.5" y1="460" x2="988.5" y2="466" stroke="#888" stroke-width="1.3"/>
<text transform="translate(988.45,485.5) scale(1.12,1)" font-family="Liberation Sans" font-size="14" text-anchor="middle" fill="#333" stroke="#333" stroke-width="0.55" >-1.4</text>
<line x1="1128.0" y1="460" x2="1128.0" y2="466" stroke="#888" stroke-width="1.3"/>
<text transform="translate(1128.025,485.5) scale(1.12,1)" font-family="Liberation Sans" font-size="14" text-anchor="middle" fill="#333" stroke="#333" stroke-width="0.55" >-1.2</text>
<line x1="1267.6" y1="460" x2="1267.6" y2="466" stroke="#888" stroke-width="1.3"/>
<text transform="translate(1267.6,485.5) scale(1.12,1)" font-family="Liberation Sans" font-size="14" text-anchor="middle" fill="#333" stroke="#333" stroke-width="0.55" >-1.0</text>
<text transform="translate(990,510.6) scale(1.13,1)" font-family="Liberation Sans" font-size="16.5" text-anchor="middle" fill="#333" stroke="#333" stroke-width="0.25" >Volts vs Ag/Ag<tspan font-size="10" dy="-8">+</tspan></text>
<text transform="translate(654.5,271) rotate(-90) scale(1,1.13)" font-family="Liberation Sans" font-size="17" text-anchor="middle" fill="#333" stroke="#333" stroke-width="0.3">mA/cm<tspan font-size="11" dy="-8">2</tspan></text>
<text transform="translate(756.8,189.8) scale(1.085,1)" font-family="Liberation Sans" font-size="14" text-anchor="start" fill="#4545e0" stroke="#4545e0" stroke-width="0.55" >Qa/Qc= 0.158</text>
<text transform="translate(1078.3,420.2) scale(1.1,1)" font-family="Liberation Sans" font-size="14" text-anchor="start" fill="#333" stroke="#333" stroke-width="0.3" >iR corrected</text>
<rect x="1171.3" y="78.5" width="62.5" height="66.5" fill="#fff" stroke="#111" stroke-width="2.4"/>
<text x="1210" y="124" font-family="Liberation Sans" font-size="33" text-anchor="middle" fill="#111">B</text>
<rect x="1050.5" y="284.6" width="133.7" height="74.8" fill="#fff" stroke="#888" stroke-width="1.4"/>
<line x1="1062.6" y1="302.9" x2="1096" y2="302.9" stroke="#808080" stroke-width="2.2"/>
<text transform="translate(1106.2,308.09999999999997) scale(1.08,1)" font-family="Liberation Sans" font-size="14" text-anchor="start" fill="#222" stroke="#222" stroke-width="0.2" >50 m<tspan dx="0.8">v/s</tspan></text>
<line x1="1062.6" y1="322" x2="1096" y2="322" stroke="#7070f0" stroke-width="1.6"/>
<text transform="translate(1106.2,327.2) scale(1.08,1)" font-family="Liberation Sans" font-size="14" text-anchor="start" fill="#222" stroke="#222" stroke-width="0.2" >100 m<tspan dx="0.8">v/s</tspan></text>
<line x1="1062.6" y1="340.6" x2="1096" y2="340.6" stroke="#f07070" stroke-width="1.6"/>
<text transform="translate(1106.2,345.8) scale(1.08,1)" font-family="Liberation Sans" font-size="14" text-anchor="start" fill="#222" stroke="#222" stroke-width="0.2" >200 m<tspan dx="0.8">v/s</tspan></text>
</svg>
</body></html>
